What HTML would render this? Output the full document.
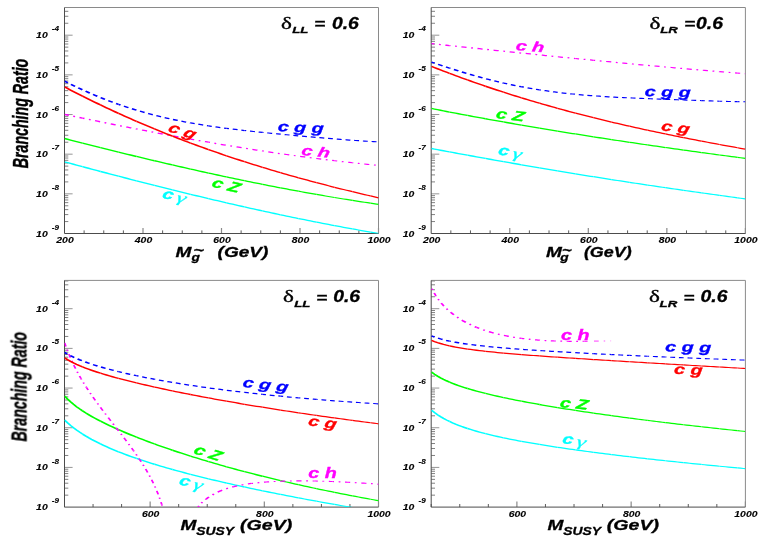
<!DOCTYPE html>
<html><head><meta charset="utf-8"><title>Branching Ratio plots</title>
<style>
html,body{margin:0;padding:0;background:#fff;}
body{width:763px;height:545px;overflow:hidden;font-family:"Liberation Sans",sans-serif;}
svg{display:block;}
</style></head><body>
<svg width="763" height="545" viewBox="0 0 763 545">
<rect width="763" height="545" fill="#fff"/>
<g style="opacity:0.999">
<clipPath id="cp1"><rect x="64.5" y="7.5" width="314" height="226"/></clipPath>
<line x1="64.5" y1="221.56" x2="68.3" y2="221.56" stroke="#4a4a4a" stroke-width="0.7"/>
<line x1="64.5" y1="214.58" x2="68.3" y2="214.58" stroke="#4a4a4a" stroke-width="0.7"/>
<line x1="64.5" y1="209.62" x2="68.3" y2="209.62" stroke="#4a4a4a" stroke-width="0.7"/>
<line x1="64.5" y1="205.78" x2="68.3" y2="205.78" stroke="#4a4a4a" stroke-width="0.7"/>
<line x1="64.5" y1="202.64" x2="68.3" y2="202.64" stroke="#4a4a4a" stroke-width="0.7"/>
<line x1="64.5" y1="199.98" x2="68.3" y2="199.98" stroke="#4a4a4a" stroke-width="0.7"/>
<line x1="64.5" y1="197.68" x2="68.3" y2="197.68" stroke="#4a4a4a" stroke-width="0.7"/>
<line x1="64.5" y1="195.65" x2="68.3" y2="195.65" stroke="#4a4a4a" stroke-width="0.7"/>
<text transform="translate(36.1,236.5) scale(1.25,1)" font-family="'Liberation Sans', sans-serif" font-size="8.35" font-weight="bold" font-style="italic" fill="#000" stroke="#000" stroke-width="0.12" text-anchor="start">10</text>
<text transform="translate(51.8,229.6) scale(1.27,1)" font-family="'Liberation Sans', sans-serif" font-size="6.42" font-weight="bold" font-style="italic" fill="#000" stroke="#000" stroke-width="0.12" text-anchor="start">-9</text>
<line x1="64.5" y1="193.84" x2="72.6" y2="193.84" stroke="#8a8a8a" stroke-width="0.9"/>
<line x1="64.5" y1="181.9" x2="68.3" y2="181.9" stroke="#4a4a4a" stroke-width="0.7"/>
<line x1="64.5" y1="174.92" x2="68.3" y2="174.92" stroke="#4a4a4a" stroke-width="0.7"/>
<line x1="64.5" y1="169.96" x2="68.3" y2="169.96" stroke="#4a4a4a" stroke-width="0.7"/>
<line x1="64.5" y1="166.12" x2="68.3" y2="166.12" stroke="#4a4a4a" stroke-width="0.7"/>
<line x1="64.5" y1="162.98" x2="68.3" y2="162.98" stroke="#4a4a4a" stroke-width="0.7"/>
<line x1="64.5" y1="160.32" x2="68.3" y2="160.32" stroke="#4a4a4a" stroke-width="0.7"/>
<line x1="64.5" y1="158.02" x2="68.3" y2="158.02" stroke="#4a4a4a" stroke-width="0.7"/>
<line x1="64.5" y1="155.99" x2="68.3" y2="155.99" stroke="#4a4a4a" stroke-width="0.7"/>
<text transform="translate(36.1,196.84) scale(1.25,1)" font-family="'Liberation Sans', sans-serif" font-size="8.35" font-weight="bold" font-style="italic" fill="#000" stroke="#000" stroke-width="0.12" text-anchor="start">10</text>
<text transform="translate(51.8,189.94) scale(1.27,1)" font-family="'Liberation Sans', sans-serif" font-size="6.42" font-weight="bold" font-style="italic" fill="#000" stroke="#000" stroke-width="0.12" text-anchor="start">-8</text>
<line x1="64.5" y1="154.18" x2="72.6" y2="154.18" stroke="#8a8a8a" stroke-width="0.9"/>
<line x1="64.5" y1="142.24" x2="68.3" y2="142.24" stroke="#4a4a4a" stroke-width="0.7"/>
<line x1="64.5" y1="135.26" x2="68.3" y2="135.26" stroke="#4a4a4a" stroke-width="0.7"/>
<line x1="64.5" y1="130.3" x2="68.3" y2="130.3" stroke="#4a4a4a" stroke-width="0.7"/>
<line x1="64.5" y1="126.46" x2="68.3" y2="126.46" stroke="#4a4a4a" stroke-width="0.7"/>
<line x1="64.5" y1="123.32" x2="68.3" y2="123.32" stroke="#4a4a4a" stroke-width="0.7"/>
<line x1="64.5" y1="120.66" x2="68.3" y2="120.66" stroke="#4a4a4a" stroke-width="0.7"/>
<line x1="64.5" y1="118.36" x2="68.3" y2="118.36" stroke="#4a4a4a" stroke-width="0.7"/>
<line x1="64.5" y1="116.33" x2="68.3" y2="116.33" stroke="#4a4a4a" stroke-width="0.7"/>
<text transform="translate(36.1,157.18) scale(1.25,1)" font-family="'Liberation Sans', sans-serif" font-size="8.35" font-weight="bold" font-style="italic" fill="#000" stroke="#000" stroke-width="0.12" text-anchor="start">10</text>
<text transform="translate(51.8,150.28) scale(1.27,1)" font-family="'Liberation Sans', sans-serif" font-size="6.42" font-weight="bold" font-style="italic" fill="#000" stroke="#000" stroke-width="0.12" text-anchor="start">-7</text>
<line x1="64.5" y1="114.52" x2="72.6" y2="114.52" stroke="#8a8a8a" stroke-width="0.9"/>
<line x1="64.5" y1="102.58" x2="68.3" y2="102.58" stroke="#4a4a4a" stroke-width="0.7"/>
<line x1="64.5" y1="95.6" x2="68.3" y2="95.6" stroke="#4a4a4a" stroke-width="0.7"/>
<line x1="64.5" y1="90.64" x2="68.3" y2="90.64" stroke="#4a4a4a" stroke-width="0.7"/>
<line x1="64.5" y1="86.8" x2="68.3" y2="86.8" stroke="#4a4a4a" stroke-width="0.7"/>
<line x1="64.5" y1="83.66" x2="68.3" y2="83.66" stroke="#4a4a4a" stroke-width="0.7"/>
<line x1="64.5" y1="81" x2="68.3" y2="81" stroke="#4a4a4a" stroke-width="0.7"/>
<line x1="64.5" y1="78.7" x2="68.3" y2="78.7" stroke="#4a4a4a" stroke-width="0.7"/>
<line x1="64.5" y1="76.67" x2="68.3" y2="76.67" stroke="#4a4a4a" stroke-width="0.7"/>
<text transform="translate(36.1,117.52) scale(1.25,1)" font-family="'Liberation Sans', sans-serif" font-size="8.35" font-weight="bold" font-style="italic" fill="#000" stroke="#000" stroke-width="0.12" text-anchor="start">10</text>
<text transform="translate(51.8,110.62) scale(1.27,1)" font-family="'Liberation Sans', sans-serif" font-size="6.42" font-weight="bold" font-style="italic" fill="#000" stroke="#000" stroke-width="0.12" text-anchor="start">-6</text>
<line x1="64.5" y1="74.86" x2="72.6" y2="74.86" stroke="#8a8a8a" stroke-width="0.9"/>
<line x1="64.5" y1="62.92" x2="68.3" y2="62.92" stroke="#4a4a4a" stroke-width="0.7"/>
<line x1="64.5" y1="55.94" x2="68.3" y2="55.94" stroke="#4a4a4a" stroke-width="0.7"/>
<line x1="64.5" y1="50.98" x2="68.3" y2="50.98" stroke="#4a4a4a" stroke-width="0.7"/>
<line x1="64.5" y1="47.14" x2="68.3" y2="47.14" stroke="#4a4a4a" stroke-width="0.7"/>
<line x1="64.5" y1="44" x2="68.3" y2="44" stroke="#4a4a4a" stroke-width="0.7"/>
<line x1="64.5" y1="41.34" x2="68.3" y2="41.34" stroke="#4a4a4a" stroke-width="0.7"/>
<line x1="64.5" y1="39.04" x2="68.3" y2="39.04" stroke="#4a4a4a" stroke-width="0.7"/>
<line x1="64.5" y1="37.01" x2="68.3" y2="37.01" stroke="#4a4a4a" stroke-width="0.7"/>
<text transform="translate(36.1,77.86) scale(1.25,1)" font-family="'Liberation Sans', sans-serif" font-size="8.35" font-weight="bold" font-style="italic" fill="#000" stroke="#000" stroke-width="0.12" text-anchor="start">10</text>
<text transform="translate(51.8,70.96) scale(1.27,1)" font-family="'Liberation Sans', sans-serif" font-size="6.42" font-weight="bold" font-style="italic" fill="#000" stroke="#000" stroke-width="0.12" text-anchor="start">-5</text>
<line x1="64.5" y1="35.2" x2="72.6" y2="35.2" stroke="#8a8a8a" stroke-width="0.9"/>
<line x1="64.5" y1="23.26" x2="68.3" y2="23.26" stroke="#4a4a4a" stroke-width="0.7"/>
<line x1="64.5" y1="16.28" x2="68.3" y2="16.28" stroke="#4a4a4a" stroke-width="0.7"/>
<line x1="64.5" y1="11.32" x2="68.3" y2="11.32" stroke="#4a4a4a" stroke-width="0.7"/>
<text transform="translate(36.1,38.2) scale(1.25,1)" font-family="'Liberation Sans', sans-serif" font-size="8.35" font-weight="bold" font-style="italic" fill="#000" stroke="#000" stroke-width="0.12" text-anchor="start">10</text>
<text transform="translate(51.8,31.3) scale(1.27,1)" font-family="'Liberation Sans', sans-serif" font-size="6.42" font-weight="bold" font-style="italic" fill="#000" stroke="#000" stroke-width="0.12" text-anchor="start">-4</text>
<line x1="84.12" y1="233.5" x2="84.12" y2="230.4" stroke="#4a4a4a" stroke-width="0.9"/>
<line x1="103.75" y1="233.5" x2="103.75" y2="230.4" stroke="#4a4a4a" stroke-width="0.9"/>
<line x1="123.38" y1="233.5" x2="123.38" y2="230.4" stroke="#4a4a4a" stroke-width="0.9"/>
<line x1="143" y1="233.5" x2="143" y2="228" stroke="#8a8a8a" stroke-width="1.2"/>
<line x1="162.62" y1="233.5" x2="162.62" y2="230.4" stroke="#4a4a4a" stroke-width="0.9"/>
<line x1="182.25" y1="233.5" x2="182.25" y2="230.4" stroke="#4a4a4a" stroke-width="0.9"/>
<line x1="201.88" y1="233.5" x2="201.88" y2="230.4" stroke="#4a4a4a" stroke-width="0.9"/>
<line x1="221.5" y1="233.5" x2="221.5" y2="228" stroke="#8a8a8a" stroke-width="1.2"/>
<line x1="241.12" y1="233.5" x2="241.12" y2="230.4" stroke="#4a4a4a" stroke-width="0.9"/>
<line x1="260.75" y1="233.5" x2="260.75" y2="230.4" stroke="#4a4a4a" stroke-width="0.9"/>
<line x1="280.38" y1="233.5" x2="280.38" y2="230.4" stroke="#4a4a4a" stroke-width="0.9"/>
<line x1="300" y1="233.5" x2="300" y2="228" stroke="#8a8a8a" stroke-width="1.2"/>
<line x1="319.62" y1="233.5" x2="319.62" y2="230.4" stroke="#4a4a4a" stroke-width="0.9"/>
<line x1="339.25" y1="233.5" x2="339.25" y2="230.4" stroke="#4a4a4a" stroke-width="0.9"/>
<line x1="358.88" y1="233.5" x2="358.88" y2="230.4" stroke="#4a4a4a" stroke-width="0.9"/>
<line x1="378.5" y1="233.5" x2="378.5" y2="228" stroke="#8a8a8a" stroke-width="1.2"/>
<text transform="translate(65,242.9) scale(1.25,1)" font-family="'Liberation Sans', sans-serif" font-size="8.35" font-weight="bold" font-style="italic" fill="#000" stroke="#000" stroke-width="0.12" text-anchor="middle">200</text>
<text transform="translate(143.5,242.9) scale(1.25,1)" font-family="'Liberation Sans', sans-serif" font-size="8.35" font-weight="bold" font-style="italic" fill="#000" stroke="#000" stroke-width="0.12" text-anchor="middle">400</text>
<text transform="translate(222,242.9) scale(1.25,1)" font-family="'Liberation Sans', sans-serif" font-size="8.35" font-weight="bold" font-style="italic" fill="#000" stroke="#000" stroke-width="0.12" text-anchor="middle">600</text>
<text transform="translate(300.5,242.9) scale(1.25,1)" font-family="'Liberation Sans', sans-serif" font-size="8.35" font-weight="bold" font-style="italic" fill="#000" stroke="#000" stroke-width="0.12" text-anchor="middle">800</text>
<text transform="translate(379,242.9) scale(1.25,1)" font-family="'Liberation Sans', sans-serif" font-size="8.35" font-weight="bold" font-style="italic" fill="#000" stroke="#000" stroke-width="0.12" text-anchor="middle">1000</text>
<path d="M64.5 7.5 H378.5 V233.5" fill="none" stroke="#8a8a8a" stroke-width="1"/>
<path d="M64.5 7.5 V233.5 H378.5" fill="none" stroke="#4c4c4c" stroke-width="1"/>
<text transform="translate(27.6,113.5) rotate(-90) scale(1,1.52)" font-family="'Liberation Sans', sans-serif" font-size="14.2" font-weight="bold" font-style="italic" fill="#000" stroke="#000" stroke-width="0.3" text-anchor="middle">Branching Ratio</text>
<text transform="translate(280.9,28.5) scale(1.45,1)" font-family="'Liberation Serif', serif" font-size="15.9" fill="#000" stroke="#000" stroke-width="0.35">&#948;</text>
<text transform="translate(292.2,32.9) scale(1.55,1)" font-family="'Liberation Sans', sans-serif" font-size="8.56" font-weight="bold" font-style="italic" fill="#000" stroke="#000" stroke-width="0.3" text-anchor="start">LL</text>
<text transform="translate(314.2,29.2) scale(1.25,1)" font-family="'Liberation Sans', sans-serif" font-size="14.98" font-weight="bold" font-style="italic" fill="#000" stroke="#000" stroke-width="0.3" text-anchor="start">=</text>
<text transform="translate(331.9,28.5) scale(1.24,1)" font-family="'Liberation Sans', sans-serif" font-size="15.62" font-weight="bold" font-style="italic" fill="#000" stroke="#000" stroke-width="0.3" text-anchor="start">0.6</text>
<text transform="translate(175.5,257) scale(1.31,1)" font-family="'Liberation Sans', sans-serif" font-size="14.55" font-weight="bold" font-style="italic" fill="#000" stroke="#000" stroke-width="0.3" text-anchor="start">M</text>
<text transform="translate(191.6,260.9) scale(1.31,1)" font-family="'Liberation Sans', sans-serif" font-size="10.49" font-weight="bold" font-style="italic" fill="#000" stroke="#000" stroke-width="0.3" text-anchor="start">g</text>
<text transform="translate(193.8,255) scale(1.4,1)" font-family="'Liberation Sans', sans-serif" font-size="12.84" font-weight="bold" font-style="normal" fill="#000" stroke="#000" stroke-width="0.3" text-anchor="start">~</text>
<text transform="translate(217.6,257) scale(1.31,1)" font-family="'Liberation Sans', sans-serif" font-size="14.55" font-weight="bold" font-style="italic" fill="#000" stroke="#000" stroke-width="0.3" text-anchor="start">(GeV)</text>
<g clip-path="url(#cp1)"><g transform="scale(1.4,1)" fill="none" stroke="#00ffff">
<path d="M46.071 161.81 L48.214 162.62 L50.357 163.43 L52.500 164.24 L54.643 165.05 L56.786 165.86 L58.929 166.66" stroke-width="1.44"/>
<path d="M58.929 166.66 L61.071 167.47 L63.214 168.27 L65.357 169.07 L67.500 169.87 L69.643 170.66 L71.786 171.46" stroke-width="1.43"/>
<path d="M71.786 171.46 L73.929 172.25 L76.071 173.04 L78.214 173.83 L80.357 174.62 L82.500 175.4 L84.643 176.18" stroke-width="1.42"/>
<path d="M84.643 176.18 L86.786 176.96 L88.929 177.74 L91.071 178.52 L93.214 179.3 L95.357 180.07 L97.500 180.84" stroke-width="1.41"/>
<path d="M97.500 180.84 L99.643 181.61 L101.786 182.37 L103.929 183.14 L106.071 183.9 L108.214 184.66 L110.357 185.42" stroke-width="1.4"/>
<path d="M110.357 185.42 L112.500 186.17 L114.643 186.92 L116.786 187.67 L118.929 188.42 L121.071 189.17 L123.214 189.91" stroke-width="1.38"/>
<path d="M123.214 189.91 L125.357 190.65 L127.500 191.39 L129.643 192.12 L131.786 192.85 L133.929 193.58 L136.071 194.31" stroke-width="1.37"/>
<path d="M136.071 194.31 L138.214 195.04 L140.357 195.76 L142.500 196.48 L144.643 197.19 L146.786 197.91 L148.929 198.62" stroke-width="1.36"/>
<path d="M148.929 198.62 L151.071 199.33 L153.214 200.03 L155.357 200.73 L157.500 201.43 L159.643 202.13 L161.786 202.82" stroke-width="1.35"/>
<path d="M161.786 202.82 L163.929 203.52 L166.071 204.2 L168.214 204.89 L170.357 205.57 L172.500 206.25 L174.643 206.92" stroke-width="1.33"/>
<path d="M174.643 206.92 L176.786 207.59 L178.929 208.26 L181.071 208.93 L183.214 209.59 L185.357 210.25 L187.500 210.91" stroke-width="1.32"/>
<path d="M187.500 210.91 L189.643 211.56 L191.786 212.21 L193.929 212.85 L196.071 213.5 L198.214 214.14 L200.357 214.77" stroke-width="1.31"/>
<path d="M200.357 214.77 L202.500 215.4 L204.643 216.03 L206.786 216.66 L208.929 217.28 L211.071 217.9 L213.214 218.51" stroke-width="1.29"/>
<path d="M213.214 218.51 L215.357 219.12 L217.500 219.73 L219.643 220.33 L221.786 220.93 L223.929 221.53 L226.071 222.12" stroke-width="1.28"/>
<path d="M226.071 222.12 L228.214 222.71 L230.357 223.29 L232.500 223.87 L234.643 224.45 L236.786 225.02 L238.929 225.59" stroke-width="1.27"/>
<path d="M238.929 225.59 L241.071 226.15 L243.214 226.72 L245.357 227.27 L247.500 227.82 L249.643 228.37 L251.786 228.92" stroke-width="1.25"/>
<path d="M251.786 228.92 L253.929 229.46 L256.071 229.99 L258.214 230.53 L260.357 231.05 L262.500 231.58 L264.643 232.1" stroke-width="1.24"/>
<path d="M264.643 232.1 L266.786 232.61 L268.929 233.12 L270.500 233.49" stroke-width="1.23"/>
</g></g>
<g clip-path="url(#cp1)"><g transform="scale(1.4,1)" fill="none" stroke="#00ff00">
<path d="M46.071 138.52 L48.214 139.29 L50.357 140.06 L52.500 140.82 L54.643 141.59 L56.786 142.35 L58.929 143.11" stroke-width="1.43"/>
<path d="M58.929 143.11 L61.071 143.87 L63.214 144.63 L65.357 145.38 L67.500 146.14 L69.643 146.89 L71.786 147.64" stroke-width="1.42"/>
<path d="M71.786 147.64 L73.929 148.38 L76.071 149.13 L78.214 149.87 L80.357 150.61 L82.500 151.35 L84.643 152.09" stroke-width="1.41"/>
<path d="M84.643 152.09 L86.786 152.83 L88.929 153.56 L91.071 154.29 L93.214 155.02 L95.357 155.74 L97.500 156.47" stroke-width="1.4"/>
<path d="M97.500 156.47 L99.643 157.19 L101.786 157.91 L103.929 158.62 L106.071 159.34 L108.214 160.05 L110.357 160.76" stroke-width="1.38"/>
<path d="M110.357 160.76 L112.500 161.46 L114.643 162.17 L116.786 162.87 L118.929 163.57 L121.071 164.26 L123.214 164.96" stroke-width="1.37"/>
<path d="M123.214 164.96 L125.357 165.65 L127.500 166.33 L129.643 167.02 L131.786 167.7 L133.929 168.38 L136.071 169.06" stroke-width="1.36"/>
<path d="M136.071 169.06 L138.214 169.73 L140.357 170.4 L142.500 171.07 L144.643 171.73 L146.786 172.39 L148.929 173.05" stroke-width="1.35"/>
<path d="M148.929 173.05 L151.071 173.7 L153.214 174.36 L155.357 175.01 L157.500 175.65 L159.643 176.29 L161.786 176.93" stroke-width="1.33"/>
<path d="M161.786 176.93 L163.929 177.57 L166.071 178.2 L168.214 178.83 L170.357 179.46 L172.500 180.08 L174.643 180.7" stroke-width="1.32"/>
<path d="M174.643 180.7 L176.786 181.31 L178.929 181.92 L181.071 182.53 L183.214 183.14 L185.357 183.74 L187.500 184.34" stroke-width="1.31"/>
<path d="M187.500 184.34 L189.643 184.93 L191.786 185.52 L193.929 186.11 L196.071 186.69 L198.214 187.27 L200.357 187.84" stroke-width="1.29"/>
<path d="M200.357 187.84 L202.500 188.41 L204.643 188.98 L206.786 189.54 L208.929 190.1 L211.071 190.66 L213.214 191.21" stroke-width="1.28"/>
<path d="M213.214 191.21 L215.357 191.76 L217.500 192.3 L219.643 192.84 L221.786 193.38 L223.929 193.91 L226.071 194.43" stroke-width="1.26"/>
<path d="M226.071 194.43 L228.214 194.96 L230.357 195.47 L232.500 195.99 L234.643 196.5 L236.786 197 L238.929 197.5" stroke-width="1.25"/>
<path d="M238.929 197.5 L241.071 198 L243.214 198.49 L245.357 198.98 L247.500 199.46 L249.643 199.94 L251.786 200.42" stroke-width="1.23"/>
<path d="M251.786 200.42 L253.929 200.89 L256.071 201.35 L258.214 201.81 L260.357 202.27 L262.500 202.72 L264.643 203.16" stroke-width="1.22"/>
<path d="M264.643 203.16 L266.786 203.61 L268.929 204.04 L270.500 204.36" stroke-width="1.21"/>
</g></g>
<g clip-path="url(#cp1)"><g transform="scale(1.4,1)" fill="none" stroke="#ff00ff" stroke-dasharray="3.7 3.3 1.3 3.3">
<path d="M46.071 114.36 L48.214 114.99 L50.357 115.62 L52.500 116.24 L54.643 116.87 L56.786 117.49 L58.929 118.11" stroke-width="1.4" stroke-dashoffset="0.45"/>
<path d="M58.929 118.11 L61.071 118.73 L63.214 119.35 L65.357 119.97 L67.500 120.58 L69.643 121.2 L71.786 121.81" stroke-width="1.39" stroke-dashoffset="13.84"/>
<path d="M71.786 121.81 L73.929 122.42 L76.071 123.02 L78.214 123.63 L80.357 124.23 L82.500 124.83 L84.643 125.43" stroke-width="1.37" stroke-dashoffset="27.22"/>
<path d="M84.643 125.43 L86.786 126.03 L88.929 126.62 L91.071 127.21 L93.214 127.8 L95.357 128.39 L97.500 128.97" stroke-width="1.36" stroke-dashoffset="40.58"/>
<path d="M97.500 128.97 L99.643 129.56 L101.786 130.14 L103.929 130.71 L106.071 131.29 L108.214 131.86 L110.357 132.43" stroke-width="1.35" stroke-dashoffset="53.92"/>
<path d="M110.357 132.43 L112.500 133 L114.643 133.56 L116.786 134.13 L118.929 134.69 L121.071 135.24 L123.214 135.8" stroke-width="1.34" stroke-dashoffset="67.23"/>
<path d="M123.214 135.8 L125.357 136.35 L127.500 136.9 L129.643 137.44 L131.786 137.99 L133.929 138.53 L136.071 139.06" stroke-width="1.33" stroke-dashoffset="80.52"/>
<path d="M136.071 139.06 L138.214 139.6 L140.357 140.13 L142.500 140.66 L144.643 141.18 L146.786 141.7 L148.929 142.22" stroke-width="1.31" stroke-dashoffset="93.79"/>
<path d="M148.929 142.22 L151.071 142.74 L153.214 143.25 L155.357 143.76 L157.500 144.26 L159.643 144.77 L161.786 145.26" stroke-width="1.3" stroke-dashoffset="107.02"/>
<path d="M161.786 145.26 L163.929 145.76 L166.071 146.25 L168.214 146.74 L170.357 147.23 L172.500 147.71 L174.643 148.19" stroke-width="1.28" stroke-dashoffset="120.24"/>
<path d="M174.643 148.19 L176.786 148.66 L178.929 149.13 L181.071 149.6 L183.214 150.06 L185.357 150.52 L187.500 150.98" stroke-width="1.27" stroke-dashoffset="133.42"/>
<path d="M187.500 150.98 L189.643 151.43 L191.786 151.88 L193.929 152.33 L196.071 152.77 L198.214 153.21 L200.357 153.64" stroke-width="1.26" stroke-dashoffset="146.58"/>
<path d="M200.357 153.64 L202.500 154.07 L204.643 154.49 L206.786 154.91 L208.929 155.33 L211.071 155.74 L213.214 156.15" stroke-width="1.24" stroke-dashoffset="159.71"/>
<path d="M213.214 156.15 L215.357 156.56 L217.500 156.96 L219.643 157.35 L221.786 157.75 L223.929 158.13 L226.071 158.52" stroke-width="1.23" stroke-dashoffset="172.81"/>
<path d="M226.071 158.52 L228.214 158.89 L230.357 159.27 L232.500 159.64 L234.643 160 L236.786 160.36 L238.929 160.72" stroke-width="1.21" stroke-dashoffset="185.88"/>
<path d="M238.929 160.72 L241.071 161.07 L243.214 161.42 L245.357 161.76 L247.500 162.1 L249.643 162.43 L251.786 162.76" stroke-width="1.19" stroke-dashoffset="198.93"/>
<path d="M251.786 162.76 L253.929 163.09 L256.071 163.4 L258.214 163.72 L260.357 164.03 L262.500 164.33 L264.643 164.63" stroke-width="1.18" stroke-dashoffset="211.95"/>
<path d="M264.643 164.63 L266.786 164.92 L268.929 165.21 L270.500 165.42" stroke-width="1.16" stroke-dashoffset="224.94"/>
</g></g>
<g clip-path="url(#cp1)"><g transform="scale(1.4,1)" fill="none" stroke="#0000ff" stroke-dasharray="3.53 2.72">
<path d="M46.071 81.17 L48.214 82.68 L50.357 84.16 L52.500 85.61 L54.643 87.04 L56.786 88.45 L58.929 89.82" stroke-width="1.56" stroke-dashoffset="0.64"/>
<path d="M58.929 89.82 L61.071 91.18 L63.214 92.5 L65.357 93.8 L67.500 95.08 L69.643 96.32 L71.786 97.55" stroke-width="1.53" stroke-dashoffset="16.14"/>
<path d="M71.786 97.55 L73.929 98.74 L76.071 99.91 L78.214 101.05 L80.357 102.17 L82.500 103.26 L84.643 104.32" stroke-width="1.49" stroke-dashoffset="31.14"/>
<path d="M84.643 104.32 L86.786 105.36 L88.929 106.37 L91.071 107.36 L93.214 108.32 L95.357 109.26 L97.500 110.18" stroke-width="1.45" stroke-dashoffset="45.67"/>
<path d="M97.500 110.18 L99.643 111.07 L101.786 111.93 L103.929 112.77 L106.071 113.59 L108.214 114.39 L110.357 115.17" stroke-width="1.41" stroke-dashoffset="59.8"/>
<path d="M110.357 115.17 L112.500 115.92 L114.643 116.65 L116.786 117.36 L118.929 118.05 L121.071 118.72 L123.214 119.38" stroke-width="1.37" stroke-dashoffset="73.6"/>
<path d="M123.214 119.38 L125.357 120.01 L127.500 120.62 L129.643 121.22 L131.786 121.8 L133.929 122.36 L136.071 122.9" stroke-width="1.34" stroke-dashoffset="87.13"/>
<path d="M136.071 122.9 L138.214 123.43 L140.357 123.95 L142.500 124.44 L144.643 124.93 L146.786 125.4 L148.929 125.86" stroke-width="1.3" stroke-dashoffset="100.46"/>
<path d="M148.929 125.86 L151.071 126.3 L153.214 126.74 L155.357 127.16 L157.500 127.57 L159.643 127.97 L161.786 128.36" stroke-width="1.27" stroke-dashoffset="113.65"/>
<path d="M161.786 128.36 L163.929 128.74 L166.071 129.11 L168.214 129.47 L170.357 129.82 L172.500 130.17 L174.643 130.51" stroke-width="1.25" stroke-dashoffset="126.75"/>
<path d="M174.643 130.51 L176.786 130.84 L178.929 131.17 L181.071 131.49 L183.214 131.8 L185.357 132.11 L187.500 132.42" stroke-width="1.23" stroke-dashoffset="139.79"/>
<path d="M187.500 132.42 L189.643 132.72 L191.786 133.01 L193.929 133.3 L196.071 133.59 L198.214 133.88 L200.357 134.16" stroke-width="1.21" stroke-dashoffset="152.79"/>
<path d="M200.357 134.16 L202.500 134.44 L204.643 134.72 L206.786 135 L208.929 135.27 L211.071 135.54 L213.214 135.81" stroke-width="1.2" stroke-dashoffset="165.76"/>
<path d="M213.214 135.81 L215.357 136.08 L217.500 136.35 L219.643 136.61 L221.786 136.87 L223.929 137.14 L226.071 137.39" stroke-width="1.19" stroke-dashoffset="178.72"/>
<path d="M226.071 137.39 L228.214 137.65 L230.357 137.91 L232.500 138.16 L234.643 138.41 L236.786 138.66 L238.929 138.9" stroke-width="1.18" stroke-dashoffset="191.68"/>
<path d="M238.929 138.9 L241.071 139.14 L243.214 139.38 L245.357 139.61 L247.500 139.84 L249.643 140.06 L251.786 140.28" stroke-width="1.16" stroke-dashoffset="204.62"/>
<path d="M251.786 140.28 L253.929 140.49 L256.071 140.69 L258.214 140.89 L260.357 141.08 L262.500 141.26 L264.643 141.42" stroke-width="1.14" stroke-dashoffset="217.55"/>
<path d="M264.643 141.42 L266.786 141.58 L268.929 141.73 L270.500 141.83" stroke-width="1.12" stroke-dashoffset="230.46"/>
</g></g>
<g clip-path="url(#cp1)"><g transform="scale(1.4,1)" fill="none" stroke="#ff0000">
<path d="M46.071 86.9 L48.214 88.48 L50.357 90.04 L52.500 91.58 L54.643 93.12 L56.786 94.64 L58.929 96.15" stroke-width="1.55"/>
<path d="M58.929 96.15 L61.071 97.65 L63.214 99.13 L65.357 100.61 L67.500 102.07 L69.643 103.52 L71.786 104.96" stroke-width="1.56"/>
<path d="M71.786 104.96 L73.929 106.38 L76.071 107.8 L78.214 109.2 L80.357 110.6 L82.500 111.98 L84.643 113.35" stroke-width="1.54"/>
<path d="M84.643 113.35 L86.786 114.7 L88.929 116.05 L91.071 117.39 L93.214 118.71 L95.357 120.03 L97.500 121.33" stroke-width="1.52"/>
<path d="M97.500 121.33 L99.643 122.63 L101.786 123.91 L103.929 125.18 L106.071 126.44 L108.214 127.69 L110.357 128.93" stroke-width="1.5"/>
<path d="M110.357 128.93 L112.500 130.16 L114.643 131.38 L116.786 132.59 L118.929 133.79 L121.071 134.98 L123.214 136.16" stroke-width="1.48"/>
<path d="M123.214 136.16 L125.357 137.33 L127.500 138.49 L129.643 139.64 L131.786 140.78 L133.929 141.91 L136.071 143.04" stroke-width="1.46"/>
<path d="M136.071 143.04 L138.214 144.15 L140.357 145.25 L142.500 146.35 L144.643 147.43 L146.786 148.51 L148.929 149.57" stroke-width="1.44"/>
<path d="M148.929 149.57 L151.071 150.63 L153.214 151.68 L155.357 152.72 L157.500 153.75 L159.643 154.78 L161.786 155.79" stroke-width="1.42"/>
<path d="M161.786 155.79 L163.929 156.8 L166.071 157.79 L168.214 158.78 L170.357 159.76 L172.500 160.74 L174.643 161.7" stroke-width="1.4"/>
<path d="M174.643 161.7 L176.786 162.66 L178.929 163.61 L181.071 164.55 L183.214 165.48 L185.357 166.41 L187.500 167.33" stroke-width="1.38"/>
<path d="M187.500 167.33 L189.643 168.24 L191.786 169.14 L193.929 170.04 L196.071 170.92 L198.214 171.8 L200.357 172.68" stroke-width="1.37"/>
<path d="M200.357 172.68 L202.500 173.55 L204.643 174.41 L206.786 175.26 L208.929 176.1 L211.071 176.94 L213.214 177.78" stroke-width="1.35"/>
<path d="M213.214 177.78 L215.357 178.6 L217.500 179.42 L219.643 180.23 L221.786 181.04 L223.929 181.84 L226.071 182.63" stroke-width="1.33"/>
<path d="M226.071 182.63 L228.214 183.42 L230.357 184.2 L232.500 184.98 L234.643 185.75 L236.786 186.51 L238.929 187.27" stroke-width="1.31"/>
<path d="M238.929 187.27 L241.071 188.02 L243.214 188.77 L245.357 189.51 L247.500 190.25 L249.643 190.98 L251.786 191.7" stroke-width="1.3"/>
<path d="M251.786 191.7 L253.929 192.42 L256.071 193.13 L258.214 193.84 L260.357 194.55 L262.500 195.25 L264.643 195.94" stroke-width="1.28"/>
<path d="M264.643 195.94 L266.786 196.63 L268.929 197.31 L270.500 197.81" stroke-width="1.27"/>
</g></g>
<text transform="translate(167,131) scale(1.42,1) rotate(24)" font-family="'Liberation Sans', sans-serif" font-size="13.91" font-weight="bold" font-style="italic" fill="#ff0000" stroke="#ff0000" stroke-width="0.3" text-anchor="start">c g</text>
<text transform="translate(277.4,130.9) scale(1.42,1) rotate(4)" font-family="'Liberation Sans', sans-serif" font-size="13.91" font-weight="bold" font-style="italic" fill="#0000ff" stroke="#0000ff" stroke-width="0.3" text-anchor="start">c g g</text>
<text transform="translate(300.8,154.7) scale(1.42,1) rotate(9)" font-family="'Liberation Sans', sans-serif" font-size="13.91" font-weight="bold" font-style="italic" fill="#ff00ff" stroke="#ff00ff" stroke-width="0.3" text-anchor="start">c h</text>
<text transform="translate(210.8,186.6) scale(1.42,1) rotate(18)" font-family="'Liberation Sans', sans-serif" font-size="13.91" font-weight="bold" font-style="italic" fill="#00ff00" stroke="#00ff00" stroke-width="0.3" text-anchor="start">c Z</text>
<g transform="translate(161.6,198) scale(1.42,1) rotate(13)">
<text font-family="'Liberation Sans', sans-serif" font-size="13.91" font-weight="bold" font-style="italic" fill="#00ffff" stroke="#00ffff" stroke-width="0.3">c</text>
<text transform="translate(10.4,1.4) scale(1.18,1)" font-family="'Liberation Serif', serif" font-size="14.3" font-style="italic" fill="#00ffff" stroke="#00ffff" stroke-width="0.2">&#947;</text>
</g>
<clipPath id="cp2"><rect x="431.2" y="7.5" width="314.2" height="226"/></clipPath>
<line x1="431.2" y1="221.56" x2="435" y2="221.56" stroke="#4a4a4a" stroke-width="0.7"/>
<line x1="431.2" y1="214.58" x2="435" y2="214.58" stroke="#4a4a4a" stroke-width="0.7"/>
<line x1="431.2" y1="209.62" x2="435" y2="209.62" stroke="#4a4a4a" stroke-width="0.7"/>
<line x1="431.2" y1="205.78" x2="435" y2="205.78" stroke="#4a4a4a" stroke-width="0.7"/>
<line x1="431.2" y1="202.64" x2="435" y2="202.64" stroke="#4a4a4a" stroke-width="0.7"/>
<line x1="431.2" y1="199.98" x2="435" y2="199.98" stroke="#4a4a4a" stroke-width="0.7"/>
<line x1="431.2" y1="197.68" x2="435" y2="197.68" stroke="#4a4a4a" stroke-width="0.7"/>
<line x1="431.2" y1="195.65" x2="435" y2="195.65" stroke="#4a4a4a" stroke-width="0.7"/>
<text transform="translate(402.8,236.5) scale(1.25,1)" font-family="'Liberation Sans', sans-serif" font-size="8.35" font-weight="bold" font-style="italic" fill="#000" stroke="#000" stroke-width="0.12" text-anchor="start">10</text>
<text transform="translate(418.5,229.6) scale(1.27,1)" font-family="'Liberation Sans', sans-serif" font-size="6.42" font-weight="bold" font-style="italic" fill="#000" stroke="#000" stroke-width="0.12" text-anchor="start">-9</text>
<line x1="431.2" y1="193.84" x2="439.3" y2="193.84" stroke="#8a8a8a" stroke-width="0.9"/>
<line x1="431.2" y1="181.9" x2="435" y2="181.9" stroke="#4a4a4a" stroke-width="0.7"/>
<line x1="431.2" y1="174.92" x2="435" y2="174.92" stroke="#4a4a4a" stroke-width="0.7"/>
<line x1="431.2" y1="169.96" x2="435" y2="169.96" stroke="#4a4a4a" stroke-width="0.7"/>
<line x1="431.2" y1="166.12" x2="435" y2="166.12" stroke="#4a4a4a" stroke-width="0.7"/>
<line x1="431.2" y1="162.98" x2="435" y2="162.98" stroke="#4a4a4a" stroke-width="0.7"/>
<line x1="431.2" y1="160.32" x2="435" y2="160.32" stroke="#4a4a4a" stroke-width="0.7"/>
<line x1="431.2" y1="158.02" x2="435" y2="158.02" stroke="#4a4a4a" stroke-width="0.7"/>
<line x1="431.2" y1="155.99" x2="435" y2="155.99" stroke="#4a4a4a" stroke-width="0.7"/>
<text transform="translate(402.8,196.84) scale(1.25,1)" font-family="'Liberation Sans', sans-serif" font-size="8.35" font-weight="bold" font-style="italic" fill="#000" stroke="#000" stroke-width="0.12" text-anchor="start">10</text>
<text transform="translate(418.5,189.94) scale(1.27,1)" font-family="'Liberation Sans', sans-serif" font-size="6.42" font-weight="bold" font-style="italic" fill="#000" stroke="#000" stroke-width="0.12" text-anchor="start">-8</text>
<line x1="431.2" y1="154.18" x2="439.3" y2="154.18" stroke="#8a8a8a" stroke-width="0.9"/>
<line x1="431.2" y1="142.24" x2="435" y2="142.24" stroke="#4a4a4a" stroke-width="0.7"/>
<line x1="431.2" y1="135.26" x2="435" y2="135.26" stroke="#4a4a4a" stroke-width="0.7"/>
<line x1="431.2" y1="130.3" x2="435" y2="130.3" stroke="#4a4a4a" stroke-width="0.7"/>
<line x1="431.2" y1="126.46" x2="435" y2="126.46" stroke="#4a4a4a" stroke-width="0.7"/>
<line x1="431.2" y1="123.32" x2="435" y2="123.32" stroke="#4a4a4a" stroke-width="0.7"/>
<line x1="431.2" y1="120.66" x2="435" y2="120.66" stroke="#4a4a4a" stroke-width="0.7"/>
<line x1="431.2" y1="118.36" x2="435" y2="118.36" stroke="#4a4a4a" stroke-width="0.7"/>
<line x1="431.2" y1="116.33" x2="435" y2="116.33" stroke="#4a4a4a" stroke-width="0.7"/>
<text transform="translate(402.8,157.18) scale(1.25,1)" font-family="'Liberation Sans', sans-serif" font-size="8.35" font-weight="bold" font-style="italic" fill="#000" stroke="#000" stroke-width="0.12" text-anchor="start">10</text>
<text transform="translate(418.5,150.28) scale(1.27,1)" font-family="'Liberation Sans', sans-serif" font-size="6.42" font-weight="bold" font-style="italic" fill="#000" stroke="#000" stroke-width="0.12" text-anchor="start">-7</text>
<line x1="431.2" y1="114.52" x2="439.3" y2="114.52" stroke="#8a8a8a" stroke-width="0.9"/>
<line x1="431.2" y1="102.58" x2="435" y2="102.58" stroke="#4a4a4a" stroke-width="0.7"/>
<line x1="431.2" y1="95.6" x2="435" y2="95.6" stroke="#4a4a4a" stroke-width="0.7"/>
<line x1="431.2" y1="90.64" x2="435" y2="90.64" stroke="#4a4a4a" stroke-width="0.7"/>
<line x1="431.2" y1="86.8" x2="435" y2="86.8" stroke="#4a4a4a" stroke-width="0.7"/>
<line x1="431.2" y1="83.66" x2="435" y2="83.66" stroke="#4a4a4a" stroke-width="0.7"/>
<line x1="431.2" y1="81" x2="435" y2="81" stroke="#4a4a4a" stroke-width="0.7"/>
<line x1="431.2" y1="78.7" x2="435" y2="78.7" stroke="#4a4a4a" stroke-width="0.7"/>
<line x1="431.2" y1="76.67" x2="435" y2="76.67" stroke="#4a4a4a" stroke-width="0.7"/>
<text transform="translate(402.8,117.52) scale(1.25,1)" font-family="'Liberation Sans', sans-serif" font-size="8.35" font-weight="bold" font-style="italic" fill="#000" stroke="#000" stroke-width="0.12" text-anchor="start">10</text>
<text transform="translate(418.5,110.62) scale(1.27,1)" font-family="'Liberation Sans', sans-serif" font-size="6.42" font-weight="bold" font-style="italic" fill="#000" stroke="#000" stroke-width="0.12" text-anchor="start">-6</text>
<line x1="431.2" y1="74.86" x2="439.3" y2="74.86" stroke="#8a8a8a" stroke-width="0.9"/>
<line x1="431.2" y1="62.92" x2="435" y2="62.92" stroke="#4a4a4a" stroke-width="0.7"/>
<line x1="431.2" y1="55.94" x2="435" y2="55.94" stroke="#4a4a4a" stroke-width="0.7"/>
<line x1="431.2" y1="50.98" x2="435" y2="50.98" stroke="#4a4a4a" stroke-width="0.7"/>
<line x1="431.2" y1="47.14" x2="435" y2="47.14" stroke="#4a4a4a" stroke-width="0.7"/>
<line x1="431.2" y1="44" x2="435" y2="44" stroke="#4a4a4a" stroke-width="0.7"/>
<line x1="431.2" y1="41.34" x2="435" y2="41.34" stroke="#4a4a4a" stroke-width="0.7"/>
<line x1="431.2" y1="39.04" x2="435" y2="39.04" stroke="#4a4a4a" stroke-width="0.7"/>
<line x1="431.2" y1="37.01" x2="435" y2="37.01" stroke="#4a4a4a" stroke-width="0.7"/>
<text transform="translate(402.8,77.86) scale(1.25,1)" font-family="'Liberation Sans', sans-serif" font-size="8.35" font-weight="bold" font-style="italic" fill="#000" stroke="#000" stroke-width="0.12" text-anchor="start">10</text>
<text transform="translate(418.5,70.96) scale(1.27,1)" font-family="'Liberation Sans', sans-serif" font-size="6.42" font-weight="bold" font-style="italic" fill="#000" stroke="#000" stroke-width="0.12" text-anchor="start">-5</text>
<line x1="431.2" y1="35.2" x2="439.3" y2="35.2" stroke="#8a8a8a" stroke-width="0.9"/>
<line x1="431.2" y1="23.26" x2="435" y2="23.26" stroke="#4a4a4a" stroke-width="0.7"/>
<line x1="431.2" y1="16.28" x2="435" y2="16.28" stroke="#4a4a4a" stroke-width="0.7"/>
<line x1="431.2" y1="11.32" x2="435" y2="11.32" stroke="#4a4a4a" stroke-width="0.7"/>
<text transform="translate(402.8,38.2) scale(1.25,1)" font-family="'Liberation Sans', sans-serif" font-size="8.35" font-weight="bold" font-style="italic" fill="#000" stroke="#000" stroke-width="0.12" text-anchor="start">10</text>
<text transform="translate(418.5,31.3) scale(1.27,1)" font-family="'Liberation Sans', sans-serif" font-size="6.42" font-weight="bold" font-style="italic" fill="#000" stroke="#000" stroke-width="0.12" text-anchor="start">-4</text>
<line x1="450.84" y1="233.5" x2="450.84" y2="230.4" stroke="#4a4a4a" stroke-width="0.9"/>
<line x1="470.47" y1="233.5" x2="470.47" y2="230.4" stroke="#4a4a4a" stroke-width="0.9"/>
<line x1="490.11" y1="233.5" x2="490.11" y2="230.4" stroke="#4a4a4a" stroke-width="0.9"/>
<line x1="509.75" y1="233.5" x2="509.75" y2="228" stroke="#8a8a8a" stroke-width="1.2"/>
<line x1="529.39" y1="233.5" x2="529.39" y2="230.4" stroke="#4a4a4a" stroke-width="0.9"/>
<line x1="549.02" y1="233.5" x2="549.02" y2="230.4" stroke="#4a4a4a" stroke-width="0.9"/>
<line x1="568.66" y1="233.5" x2="568.66" y2="230.4" stroke="#4a4a4a" stroke-width="0.9"/>
<line x1="588.3" y1="233.5" x2="588.3" y2="228" stroke="#8a8a8a" stroke-width="1.2"/>
<line x1="607.94" y1="233.5" x2="607.94" y2="230.4" stroke="#4a4a4a" stroke-width="0.9"/>
<line x1="627.58" y1="233.5" x2="627.58" y2="230.4" stroke="#4a4a4a" stroke-width="0.9"/>
<line x1="647.21" y1="233.5" x2="647.21" y2="230.4" stroke="#4a4a4a" stroke-width="0.9"/>
<line x1="666.85" y1="233.5" x2="666.85" y2="228" stroke="#8a8a8a" stroke-width="1.2"/>
<line x1="686.49" y1="233.5" x2="686.49" y2="230.4" stroke="#4a4a4a" stroke-width="0.9"/>
<line x1="706.12" y1="233.5" x2="706.12" y2="230.4" stroke="#4a4a4a" stroke-width="0.9"/>
<line x1="725.76" y1="233.5" x2="725.76" y2="230.4" stroke="#4a4a4a" stroke-width="0.9"/>
<line x1="745.4" y1="233.5" x2="745.4" y2="228" stroke="#8a8a8a" stroke-width="1.2"/>
<text transform="translate(431.7,242.9) scale(1.25,1)" font-family="'Liberation Sans', sans-serif" font-size="8.35" font-weight="bold" font-style="italic" fill="#000" stroke="#000" stroke-width="0.12" text-anchor="middle">200</text>
<text transform="translate(510.25,242.9) scale(1.25,1)" font-family="'Liberation Sans', sans-serif" font-size="8.35" font-weight="bold" font-style="italic" fill="#000" stroke="#000" stroke-width="0.12" text-anchor="middle">400</text>
<text transform="translate(588.8,242.9) scale(1.25,1)" font-family="'Liberation Sans', sans-serif" font-size="8.35" font-weight="bold" font-style="italic" fill="#000" stroke="#000" stroke-width="0.12" text-anchor="middle">600</text>
<text transform="translate(667.35,242.9) scale(1.25,1)" font-family="'Liberation Sans', sans-serif" font-size="8.35" font-weight="bold" font-style="italic" fill="#000" stroke="#000" stroke-width="0.12" text-anchor="middle">800</text>
<text transform="translate(745.9,242.9) scale(1.25,1)" font-family="'Liberation Sans', sans-serif" font-size="8.35" font-weight="bold" font-style="italic" fill="#000" stroke="#000" stroke-width="0.12" text-anchor="middle">1000</text>
<path d="M431.2 7.5 H745.4 V233.5" fill="none" stroke="#8a8a8a" stroke-width="1"/>
<path d="M431.2 7.5 V233.5 H745.4" fill="none" stroke="#4c4c4c" stroke-width="1"/>
<text transform="translate(649.6,28.5) scale(1.45,1)" font-family="'Liberation Serif', serif" font-size="15.9" fill="#000" stroke="#000" stroke-width="0.35">&#948;</text>
<text transform="translate(660.2,32.9) scale(1.55,1)" font-family="'Liberation Sans', sans-serif" font-size="8.56" font-weight="bold" font-style="italic" fill="#000" stroke="#000" stroke-width="0.3" text-anchor="start">LR</text>
<text transform="translate(684.2,29.2) scale(1.25,1)" font-family="'Liberation Sans', sans-serif" font-size="14.98" font-weight="bold" font-style="italic" fill="#000" stroke="#000" stroke-width="0.3" text-anchor="start">=</text>
<text transform="translate(696,28.5) scale(1.24,1)" font-family="'Liberation Sans', sans-serif" font-size="15.62" font-weight="bold" font-style="italic" fill="#000" stroke="#000" stroke-width="0.3" text-anchor="start">0.6</text>
<text transform="translate(546,257) scale(1.31,1)" font-family="'Liberation Sans', sans-serif" font-size="14.55" font-weight="bold" font-style="italic" fill="#000" stroke="#000" stroke-width="0.3" text-anchor="start">M</text>
<text transform="translate(560.3,260.9) scale(1.31,1)" font-family="'Liberation Sans', sans-serif" font-size="10.49" font-weight="bold" font-style="italic" fill="#000" stroke="#000" stroke-width="0.3" text-anchor="start">g</text>
<text transform="translate(562.3,255) scale(1.3,1)" font-family="'Liberation Sans', sans-serif" font-size="12.84" font-weight="bold" font-style="normal" fill="#000" stroke="#000" stroke-width="0.3" text-anchor="start">~</text>
<text transform="translate(583.9,257) scale(1.23,1)" font-family="'Liberation Sans', sans-serif" font-size="14.55" font-weight="bold" font-style="italic" fill="#000" stroke="#000" stroke-width="0.3" text-anchor="start">(GeV)</text>
<g clip-path="url(#cp2)"><g transform="scale(1.4,1)" fill="none" stroke="#00ffff">
<path d="M308.214 148.51 L310.357 149.09 L312.500 149.66 L314.643 150.22 L316.786 150.78 L318.929 151.33 L321.071 151.89" stroke-width="1.38"/>
<path d="M321.071 151.89 L323.214 152.44 L325.357 152.99 L327.500 153.54 L329.643 154.09 L331.786 154.64 L333.929 155.19" stroke-width="1.37"/>
<path d="M333.929 155.19 L336.071 155.73 L338.214 156.28 L340.357 156.82 L342.500 157.36 L344.643 157.9 L346.786 158.44" stroke-width="1.36"/>
<path d="M346.786 158.44 L348.929 158.98 L351.071 159.51 L353.214 160.05 L355.357 160.58 L357.500 161.11 L359.643 161.64" stroke-width="1.35"/>
<path d="M359.643 161.64 L361.786 162.17 L363.929 162.7 L366.071 163.23 L368.214 163.75 L370.357 164.27 L372.500 164.79" stroke-width="1.34"/>
<path d="M372.500 164.79 L374.643 165.31 L376.786 165.83 L378.929 166.34 L381.071 166.86 L383.214 167.37 L385.357 167.88" stroke-width="1.33"/>
<path d="M385.357 167.88 L387.500 168.38 L389.643 168.89 L391.786 169.39 L393.929 169.9 L396.071 170.4 L398.214 170.9" stroke-width="1.31"/>
<path d="M398.214 170.9 L400.357 171.39 L402.500 171.89 L404.643 172.38 L406.786 172.87 L408.929 173.36 L411.071 173.85" stroke-width="1.3"/>
<path d="M411.071 173.85 L413.214 174.34 L415.357 174.82 L417.500 175.3 L419.643 175.79 L421.786 176.26 L423.929 176.74" stroke-width="1.29"/>
<path d="M423.929 176.74 L426.071 177.22 L428.214 177.69 L430.357 178.16 L432.500 178.63 L434.643 179.1 L436.786 179.57" stroke-width="1.28"/>
<path d="M436.786 179.57 L438.929 180.04 L441.071 180.5 L443.214 180.96 L445.357 181.42 L447.500 181.88 L449.643 182.34" stroke-width="1.27"/>
<path d="M449.643 182.34 L451.786 182.79 L453.929 183.25 L456.071 183.7 L458.214 184.15 L460.357 184.6 L462.500 185.05" stroke-width="1.26"/>
<path d="M462.500 185.05 L464.643 185.49 L466.786 185.94 L468.929 186.38 L471.071 186.82 L473.214 187.26 L475.357 187.7" stroke-width="1.25"/>
<path d="M475.357 187.7 L477.500 188.14 L479.643 188.58 L481.786 189.01 L483.929 189.44 L486.071 189.88 L488.214 190.31" stroke-width="1.24"/>
<path d="M488.214 190.31 L490.357 190.73 L492.500 191.16 L494.643 191.59 L496.786 192.01 L498.929 192.43 L501.071 192.86" stroke-width="1.23"/>
<path d="M501.071 192.86 L503.214 193.28 L505.357 193.7 L507.500 194.11 L509.643 194.53 L511.786 194.94 L513.929 195.36" stroke-width="1.21"/>
<path d="M513.929 195.36 L516.071 195.77 L518.214 196.18 L520.357 196.59 L522.500 197 L524.643 197.41 L526.786 197.81" stroke-width="1.2"/>
<path d="M526.786 197.81 L528.929 198.22 L531.071 198.62 L532.357 198.86" stroke-width="1.2"/>
</g></g>
<g clip-path="url(#cp2)"><g transform="scale(1.4,1)" fill="none" stroke="#00ff00">
<path d="M308.214 108.44 L310.357 109.07 L312.500 109.69 L314.643 110.29 L316.786 110.89 L318.929 111.48 L321.071 112.06" stroke-width="1.39"/>
<path d="M321.071 112.06 L323.214 112.63 L325.357 113.21 L327.500 113.77 L329.643 114.34 L331.786 114.9 L333.929 115.46" stroke-width="1.37"/>
<path d="M333.929 115.46 L336.071 116.01 L338.214 116.56 L340.357 117.11 L342.500 117.66 L344.643 118.21 L346.786 118.75" stroke-width="1.36"/>
<path d="M346.786 118.75 L348.929 119.29 L351.071 119.83 L353.214 120.36 L355.357 120.89 L357.500 121.42 L359.643 121.95" stroke-width="1.35"/>
<path d="M359.643 121.95 L361.786 122.48 L363.929 123 L366.071 123.52 L368.214 124.04 L370.357 124.56 L372.500 125.08" stroke-width="1.34"/>
<path d="M372.500 125.08 L374.643 125.59 L376.786 126.1 L378.929 126.61 L381.071 127.12 L383.214 127.62 L385.357 128.12" stroke-width="1.32"/>
<path d="M385.357 128.12 L387.500 128.62 L389.643 129.12 L391.786 129.62 L393.929 130.11 L396.071 130.6 L398.214 131.09" stroke-width="1.31"/>
<path d="M398.214 131.09 L400.357 131.58 L402.500 132.07 L404.643 132.55 L406.786 133.03 L408.929 133.51 L411.071 133.99" stroke-width="1.3"/>
<path d="M411.071 133.99 L413.214 134.47 L415.357 134.94 L417.500 135.42 L419.643 135.89 L421.786 136.36 L423.929 136.82" stroke-width="1.29"/>
<path d="M423.929 136.82 L426.071 137.29 L428.214 137.75 L430.357 138.21 L432.500 138.67 L434.643 139.13 L436.786 139.59" stroke-width="1.28"/>
<path d="M436.786 139.59 L438.929 140.04 L441.071 140.5 L443.214 140.95 L445.357 141.4 L447.500 141.84 L449.643 142.29" stroke-width="1.27"/>
<path d="M449.643 142.29 L451.786 142.74 L453.929 143.18 L456.071 143.62 L458.214 144.06 L460.357 144.5 L462.500 144.93" stroke-width="1.26"/>
<path d="M462.500 144.93 L464.643 145.37 L466.786 145.8 L468.929 146.23 L471.071 146.66 L473.214 147.09 L475.357 147.52" stroke-width="1.24"/>
<path d="M475.357 147.52 L477.500 147.95 L479.643 148.37 L481.786 148.79 L483.929 149.22 L486.071 149.64 L488.214 150.05" stroke-width="1.23"/>
<path d="M488.214 150.05 L490.357 150.47 L492.500 150.89 L494.643 151.3 L496.786 151.72 L498.929 152.13 L501.071 152.54" stroke-width="1.22"/>
<path d="M501.071 152.54 L503.214 152.95 L505.357 153.35 L507.500 153.76 L509.643 154.16 L511.786 154.57 L513.929 154.97" stroke-width="1.21"/>
<path d="M513.929 154.97 L516.071 155.37 L518.214 155.77 L520.357 156.17 L522.500 156.57 L524.643 156.96 L526.786 157.36" stroke-width="1.2"/>
<path d="M526.786 157.36 L528.929 157.75 L531.071 158.14 L532.357 158.38" stroke-width="1.19"/>
</g></g>
<g clip-path="url(#cp2)"><g transform="scale(1.4,1)" fill="none" stroke="#ff00ff" stroke-dasharray="3.7 3.3 1.3 3.3">
<path d="M308.214 43.64 L310.357 43.96 L312.500 44.28 L314.643 44.59 L316.786 44.91 L318.929 45.23 L321.071 45.55" stroke-width="1.31" stroke-dashoffset="1.6"/>
<path d="M321.071 45.55 L323.214 45.87 L325.357 46.18 L327.500 46.5 L329.643 46.82 L331.786 47.13 L333.929 47.45" stroke-width="1.31" stroke-dashoffset="14.6"/>
<path d="M333.929 47.45 L336.071 47.76 L338.214 48.08 L340.357 48.39 L342.500 48.71 L344.643 49.02 L346.786 49.34" stroke-width="1.3" stroke-dashoffset="27.59"/>
<path d="M346.786 49.34 L348.929 49.65 L351.071 49.96 L353.214 50.27 L355.357 50.59 L357.500 50.9 L359.643 51.21" stroke-width="1.29" stroke-dashoffset="40.59"/>
<path d="M359.643 51.21 L361.786 51.52 L363.929 51.83 L366.071 52.14 L368.214 52.45 L370.357 52.76 L372.500 53.06" stroke-width="1.28" stroke-dashoffset="53.58"/>
<path d="M372.500 53.06 L374.643 53.37 L376.786 53.68 L378.929 53.99 L381.071 54.29 L383.214 54.6 L385.357 54.9" stroke-width="1.27" stroke-dashoffset="66.57"/>
<path d="M385.357 54.9 L387.500 55.21 L389.643 55.51 L391.786 55.81 L393.929 56.11 L396.071 56.42 L398.214 56.72" stroke-width="1.26" stroke-dashoffset="79.56"/>
<path d="M398.214 56.72 L400.357 57.02 L402.500 57.32 L404.643 57.61 L406.786 57.91 L408.929 58.21 L411.071 58.51" stroke-width="1.25" stroke-dashoffset="92.55"/>
<path d="M411.071 58.51 L413.214 58.8 L415.357 59.1 L417.500 59.39 L419.643 59.68 L421.786 59.98 L423.929 60.27" stroke-width="1.24" stroke-dashoffset="105.53"/>
<path d="M423.929 60.27 L426.071 60.56 L428.214 60.85 L430.357 61.14 L432.500 61.43 L434.643 61.72 L436.786 62" stroke-width="1.23" stroke-dashoffset="118.5"/>
<path d="M436.786 62 L438.929 62.29 L441.071 62.57 L443.214 62.86 L445.357 63.14 L447.500 63.42 L449.643 63.7" stroke-width="1.22" stroke-dashoffset="131.48"/>
<path d="M449.643 63.7 L451.786 63.98 L453.929 64.26 L456.071 64.54 L458.214 64.82 L460.357 65.09 L462.500 65.37" stroke-width="1.21" stroke-dashoffset="144.45"/>
<path d="M462.500 65.37 L464.643 65.64 L466.786 65.91 L468.929 66.19 L471.071 66.46 L473.214 66.73 L475.357 67" stroke-width="1.2" stroke-dashoffset="157.41"/>
<path d="M475.357 67 L477.500 67.26 L479.643 67.53 L481.786 67.8 L483.929 68.06 L486.071 68.32 L488.214 68.58" stroke-width="1.19" stroke-dashoffset="170.37"/>
<path d="M488.214 68.58 L490.357 68.84 L492.500 69.1 L494.643 69.36 L496.786 69.62 L498.929 69.88 L501.071 70.13" stroke-width="1.18" stroke-dashoffset="183.33"/>
<path d="M501.071 70.13 L503.214 70.38 L505.357 70.64 L507.500 70.89 L509.643 71.14 L511.786 71.38 L513.929 71.63" stroke-width="1.17" stroke-dashoffset="196.28"/>
<path d="M513.929 71.63 L516.071 71.88 L518.214 72.12 L520.357 72.36 L522.500 72.6 L524.643 72.84 L526.786 73.08" stroke-width="1.16" stroke-dashoffset="209.22"/>
<path d="M526.786 73.08 L528.929 73.32 L531.071 73.56 L532.357 73.7" stroke-width="1.15" stroke-dashoffset="222.16"/>
</g></g>
<g clip-path="url(#cp2)"><g transform="scale(1.4,1)" fill="none" stroke="#0000ff" stroke-dasharray="3.5 2.7">
<path d="M308.214 62.17 L310.357 63.18 L312.500 64.18 L314.643 65.17 L316.786 66.15 L318.929 67.13 L321.071 68.09" stroke-width="1.48" stroke-dashoffset="1"/>
<path d="M321.071 68.09 L323.214 69.04 L325.357 69.99 L327.500 70.92 L329.643 71.84 L331.786 72.74 L333.929 73.63" stroke-width="1.46" stroke-dashoffset="15.15"/>
<path d="M333.929 73.63 L336.071 74.5 L338.214 75.36 L340.357 76.21 L342.500 77.03 L344.643 77.84 L346.786 78.64" stroke-width="1.43" stroke-dashoffset="29.15"/>
<path d="M346.786 78.64 L348.929 79.41 L351.071 80.17 L353.214 80.91 L355.357 81.64 L357.500 82.34 L359.643 83.03" stroke-width="1.4" stroke-dashoffset="42.95"/>
<path d="M359.643 83.03 L361.786 83.7 L363.929 84.35 L366.071 84.98 L368.214 85.59 L370.357 86.18 L372.500 86.76" stroke-width="1.36" stroke-dashoffset="56.54"/>
<path d="M372.500 86.76 L374.643 87.32 L376.786 87.86 L378.929 88.38 L381.071 88.89 L383.214 89.38 L385.357 89.85" stroke-width="1.33" stroke-dashoffset="69.93"/>
<path d="M385.357 89.85 L387.500 90.3 L389.643 90.74 L391.786 91.16 L393.929 91.57 L396.071 91.96 L398.214 92.34" stroke-width="1.29" stroke-dashoffset="83.15"/>
<path d="M398.214 92.34 L400.357 92.7 L402.500 93.04 L404.643 93.37 L406.786 93.69 L408.929 94 L411.071 94.29" stroke-width="1.26" stroke-dashoffset="96.25"/>
<path d="M411.071 94.29 L413.214 94.57 L415.357 94.84 L417.500 95.09 L419.643 95.34 L421.786 95.57 L423.929 95.8" stroke-width="1.23" stroke-dashoffset="109.26"/>
<path d="M423.929 95.8 L426.071 96.02 L428.214 96.22 L430.357 96.42 L432.500 96.61 L434.643 96.79 L436.786 96.97" stroke-width="1.2" stroke-dashoffset="122.2"/>
<path d="M436.786 96.97 L438.929 97.13 L441.071 97.29 L443.214 97.45 L445.357 97.6 L447.500 97.74 L449.643 97.88" stroke-width="1.18" stroke-dashoffset="135.11"/>
<path d="M449.643 97.88 L451.786 98.02 L453.929 98.15 L456.071 98.28 L458.214 98.41 L460.357 98.53 L462.500 98.65" stroke-width="1.16" stroke-dashoffset="148"/>
<path d="M462.500 98.65 L464.643 98.76 L466.786 98.88 L468.929 98.99 L471.071 99.11 L473.214 99.22 L475.357 99.33" stroke-width="1.15" stroke-dashoffset="160.88"/>
<path d="M475.357 99.33 L477.500 99.44 L479.643 99.55 L481.786 99.66 L483.929 99.76 L486.071 99.87 L488.214 99.98" stroke-width="1.14" stroke-dashoffset="173.76"/>
<path d="M488.214 99.98 L490.357 100.08 L492.500 100.19 L494.643 100.3 L496.786 100.4 L498.929 100.5 L501.071 100.61" stroke-width="1.13" stroke-dashoffset="186.63"/>
<path d="M501.071 100.61 L503.214 100.71 L505.357 100.81 L507.500 100.91 L509.643 101 L511.786 101.1 L513.929 101.19" stroke-width="1.12" stroke-dashoffset="199.5"/>
<path d="M513.929 101.19 L516.071 101.28 L518.214 101.36 L520.357 101.44 L522.500 101.51 L524.643 101.58 L526.786 101.64" stroke-width="1.1" stroke-dashoffset="212.37"/>
<path d="M526.786 101.64 L528.929 101.7 L531.071 101.74 L532.357 101.77" stroke-width="1.09" stroke-dashoffset="225.24"/>
</g></g>
<g clip-path="url(#cp2)"><g transform="scale(1.4,1)" fill="none" stroke="#ff0000">
<path d="M308.214 66.36 L310.357 67.55 L312.500 68.73 L314.643 69.9 L316.786 71.05 L318.929 72.2 L321.071 73.34" stroke-width="1.51"/>
<path d="M321.071 73.34 L323.214 74.46 L325.357 75.58 L327.500 76.69 L329.643 77.79 L331.786 78.87 L333.929 79.95" stroke-width="1.49"/>
<path d="M333.929 79.95 L336.071 81.02 L338.214 82.08 L340.357 83.13 L342.500 84.18 L344.643 85.21 L346.786 86.23" stroke-width="1.47"/>
<path d="M346.786 86.23 L348.929 87.25 L351.071 88.25 L353.214 89.25 L355.357 90.24 L357.500 91.21 L359.643 92.19" stroke-width="1.45"/>
<path d="M359.643 92.19 L361.786 93.15 L363.929 94.1 L366.071 95.05 L368.214 95.98 L370.357 96.91 L372.500 97.83" stroke-width="1.43"/>
<path d="M372.500 97.83 L374.643 98.75 L376.786 99.65 L378.929 100.55 L381.071 101.44 L383.214 102.32 L385.357 103.19" stroke-width="1.42"/>
<path d="M385.357 103.19 L387.500 104.06 L389.643 104.92 L391.786 105.77 L393.929 106.61 L396.071 107.45 L398.214 108.28" stroke-width="1.4"/>
<path d="M398.214 108.28 L400.357 109.1 L402.500 109.92 L404.643 110.73 L406.786 111.53 L408.929 112.32 L411.071 113.11" stroke-width="1.38"/>
<path d="M411.071 113.11 L413.214 113.89 L415.357 114.66 L417.500 115.43 L419.643 116.19 L421.786 116.95 L423.929 117.7" stroke-width="1.36"/>
<path d="M423.929 117.7 L426.071 118.44 L428.214 119.18 L430.357 119.91 L432.500 120.63 L434.643 121.35 L436.786 122.06" stroke-width="1.35"/>
<path d="M436.786 122.06 L438.929 122.77 L441.071 123.47 L443.214 124.17 L445.357 124.86 L447.500 125.54 L449.643 126.22" stroke-width="1.33"/>
<path d="M449.643 126.22 L451.786 126.9 L453.929 127.57 L456.071 128.23 L458.214 128.89 L460.357 129.54 L462.500 130.19" stroke-width="1.31"/>
<path d="M462.500 130.19 L464.643 130.83 L466.786 131.47 L468.929 132.11 L471.071 132.74 L473.214 133.36 L475.357 133.98" stroke-width="1.3"/>
<path d="M475.357 133.98 L477.500 134.6 L479.643 135.21 L481.786 135.82 L483.929 136.42 L486.071 137.02 L488.214 137.62" stroke-width="1.28"/>
<path d="M488.214 137.62 L490.357 138.21 L492.500 138.8 L494.643 139.38 L496.786 139.97 L498.929 140.54 L501.071 141.12" stroke-width="1.27"/>
<path d="M501.071 141.12 L503.214 141.69 L505.357 142.25 L507.500 142.82 L509.643 143.38 L511.786 143.93 L513.929 144.49" stroke-width="1.25"/>
<path d="M513.929 144.49 L516.071 145.04 L518.214 145.59 L520.357 146.13 L522.500 146.67 L524.643 147.21 L526.786 147.75" stroke-width="1.24"/>
<path d="M526.786 147.75 L528.929 148.28 L531.071 148.82 L532.357 149.13" stroke-width="1.23"/>
</g></g>
<text transform="translate(515.2,49.9) scale(1.42,1) rotate(7)" font-family="'Liberation Sans', sans-serif" font-size="13.91" font-weight="bold" font-style="italic" fill="#ff00ff" stroke="#ff00ff" stroke-width="0.3" text-anchor="start">c h</text>
<text transform="translate(644.5,96) scale(1.42,1) rotate(2)" font-family="'Liberation Sans', sans-serif" font-size="13.91" font-weight="bold" font-style="italic" fill="#0000ff" stroke="#0000ff" stroke-width="0.3" text-anchor="start">c g g</text>
<text transform="translate(660.5,130.3) scale(1.42,1) rotate(10)" font-family="'Liberation Sans', sans-serif" font-size="13.91" font-weight="bold" font-style="italic" fill="#ff0000" stroke="#ff0000" stroke-width="0.3" text-anchor="start">c g</text>
<text transform="translate(495.3,118) scale(1.42,1) rotate(10)" font-family="'Liberation Sans', sans-serif" font-size="13.91" font-weight="bold" font-style="italic" fill="#00ff00" stroke="#00ff00" stroke-width="0.3" text-anchor="start">c Z</text>
<g transform="translate(497.5,154.5) scale(1.42,1) rotate(10)">
<text font-family="'Liberation Sans', sans-serif" font-size="13.91" font-weight="bold" font-style="italic" fill="#00ffff" stroke="#00ffff" stroke-width="0.3">c</text>
<text transform="translate(10.4,1.4) scale(1.18,1)" font-family="'Liberation Serif', serif" font-size="14.3" font-style="italic" fill="#00ffff" stroke="#00ffff" stroke-width="0.2">&#947;</text>
</g>
<clipPath id="cp3"><rect x="64.5" y="280.4" width="314" height="226.7"/></clipPath>
<line x1="64.5" y1="495.16" x2="68.3" y2="495.16" stroke="#4a4a4a" stroke-width="0.7"/>
<line x1="64.5" y1="488.17" x2="68.3" y2="488.17" stroke="#4a4a4a" stroke-width="0.7"/>
<line x1="64.5" y1="483.21" x2="68.3" y2="483.21" stroke="#4a4a4a" stroke-width="0.7"/>
<line x1="64.5" y1="479.36" x2="68.3" y2="479.36" stroke="#4a4a4a" stroke-width="0.7"/>
<line x1="64.5" y1="476.22" x2="68.3" y2="476.22" stroke="#4a4a4a" stroke-width="0.7"/>
<line x1="64.5" y1="473.57" x2="68.3" y2="473.57" stroke="#4a4a4a" stroke-width="0.7"/>
<line x1="64.5" y1="471.27" x2="68.3" y2="471.27" stroke="#4a4a4a" stroke-width="0.7"/>
<line x1="64.5" y1="469.24" x2="68.3" y2="469.24" stroke="#4a4a4a" stroke-width="0.7"/>
<text transform="translate(36.1,510.1) scale(1.25,1)" font-family="'Liberation Sans', sans-serif" font-size="8.35" font-weight="bold" font-style="italic" fill="#000" stroke="#000" stroke-width="0.12" text-anchor="start">10</text>
<text transform="translate(51.8,503.2) scale(1.27,1)" font-family="'Liberation Sans', sans-serif" font-size="6.42" font-weight="bold" font-style="italic" fill="#000" stroke="#000" stroke-width="0.12" text-anchor="start">-9</text>
<line x1="64.5" y1="467.42" x2="72.6" y2="467.42" stroke="#8a8a8a" stroke-width="0.9"/>
<line x1="64.5" y1="455.48" x2="68.3" y2="455.48" stroke="#4a4a4a" stroke-width="0.7"/>
<line x1="64.5" y1="448.49" x2="68.3" y2="448.49" stroke="#4a4a4a" stroke-width="0.7"/>
<line x1="64.5" y1="443.53" x2="68.3" y2="443.53" stroke="#4a4a4a" stroke-width="0.7"/>
<line x1="64.5" y1="439.68" x2="68.3" y2="439.68" stroke="#4a4a4a" stroke-width="0.7"/>
<line x1="64.5" y1="436.54" x2="68.3" y2="436.54" stroke="#4a4a4a" stroke-width="0.7"/>
<line x1="64.5" y1="433.89" x2="68.3" y2="433.89" stroke="#4a4a4a" stroke-width="0.7"/>
<line x1="64.5" y1="431.59" x2="68.3" y2="431.59" stroke="#4a4a4a" stroke-width="0.7"/>
<line x1="64.5" y1="429.56" x2="68.3" y2="429.56" stroke="#4a4a4a" stroke-width="0.7"/>
<text transform="translate(36.1,470.42) scale(1.25,1)" font-family="'Liberation Sans', sans-serif" font-size="8.35" font-weight="bold" font-style="italic" fill="#000" stroke="#000" stroke-width="0.12" text-anchor="start">10</text>
<text transform="translate(51.8,463.52) scale(1.27,1)" font-family="'Liberation Sans', sans-serif" font-size="6.42" font-weight="bold" font-style="italic" fill="#000" stroke="#000" stroke-width="0.12" text-anchor="start">-8</text>
<line x1="64.5" y1="427.74" x2="72.6" y2="427.74" stroke="#8a8a8a" stroke-width="0.9"/>
<line x1="64.5" y1="415.8" x2="68.3" y2="415.8" stroke="#4a4a4a" stroke-width="0.7"/>
<line x1="64.5" y1="408.81" x2="68.3" y2="408.81" stroke="#4a4a4a" stroke-width="0.7"/>
<line x1="64.5" y1="403.85" x2="68.3" y2="403.85" stroke="#4a4a4a" stroke-width="0.7"/>
<line x1="64.5" y1="400" x2="68.3" y2="400" stroke="#4a4a4a" stroke-width="0.7"/>
<line x1="64.5" y1="396.86" x2="68.3" y2="396.86" stroke="#4a4a4a" stroke-width="0.7"/>
<line x1="64.5" y1="394.21" x2="68.3" y2="394.21" stroke="#4a4a4a" stroke-width="0.7"/>
<line x1="64.5" y1="391.91" x2="68.3" y2="391.91" stroke="#4a4a4a" stroke-width="0.7"/>
<line x1="64.5" y1="389.88" x2="68.3" y2="389.88" stroke="#4a4a4a" stroke-width="0.7"/>
<text transform="translate(36.1,430.74) scale(1.25,1)" font-family="'Liberation Sans', sans-serif" font-size="8.35" font-weight="bold" font-style="italic" fill="#000" stroke="#000" stroke-width="0.12" text-anchor="start">10</text>
<text transform="translate(51.8,423.84) scale(1.27,1)" font-family="'Liberation Sans', sans-serif" font-size="6.42" font-weight="bold" font-style="italic" fill="#000" stroke="#000" stroke-width="0.12" text-anchor="start">-7</text>
<line x1="64.5" y1="388.06" x2="72.6" y2="388.06" stroke="#8a8a8a" stroke-width="0.9"/>
<line x1="64.5" y1="376.12" x2="68.3" y2="376.12" stroke="#4a4a4a" stroke-width="0.7"/>
<line x1="64.5" y1="369.13" x2="68.3" y2="369.13" stroke="#4a4a4a" stroke-width="0.7"/>
<line x1="64.5" y1="364.17" x2="68.3" y2="364.17" stroke="#4a4a4a" stroke-width="0.7"/>
<line x1="64.5" y1="360.32" x2="68.3" y2="360.32" stroke="#4a4a4a" stroke-width="0.7"/>
<line x1="64.5" y1="357.18" x2="68.3" y2="357.18" stroke="#4a4a4a" stroke-width="0.7"/>
<line x1="64.5" y1="354.53" x2="68.3" y2="354.53" stroke="#4a4a4a" stroke-width="0.7"/>
<line x1="64.5" y1="352.23" x2="68.3" y2="352.23" stroke="#4a4a4a" stroke-width="0.7"/>
<line x1="64.5" y1="350.2" x2="68.3" y2="350.2" stroke="#4a4a4a" stroke-width="0.7"/>
<text transform="translate(36.1,391.06) scale(1.25,1)" font-family="'Liberation Sans', sans-serif" font-size="8.35" font-weight="bold" font-style="italic" fill="#000" stroke="#000" stroke-width="0.12" text-anchor="start">10</text>
<text transform="translate(51.8,384.16) scale(1.27,1)" font-family="'Liberation Sans', sans-serif" font-size="6.42" font-weight="bold" font-style="italic" fill="#000" stroke="#000" stroke-width="0.12" text-anchor="start">-6</text>
<line x1="64.5" y1="348.38" x2="72.6" y2="348.38" stroke="#8a8a8a" stroke-width="0.9"/>
<line x1="64.5" y1="336.44" x2="68.3" y2="336.44" stroke="#4a4a4a" stroke-width="0.7"/>
<line x1="64.5" y1="329.45" x2="68.3" y2="329.45" stroke="#4a4a4a" stroke-width="0.7"/>
<line x1="64.5" y1="324.49" x2="68.3" y2="324.49" stroke="#4a4a4a" stroke-width="0.7"/>
<line x1="64.5" y1="320.64" x2="68.3" y2="320.64" stroke="#4a4a4a" stroke-width="0.7"/>
<line x1="64.5" y1="317.5" x2="68.3" y2="317.5" stroke="#4a4a4a" stroke-width="0.7"/>
<line x1="64.5" y1="314.85" x2="68.3" y2="314.85" stroke="#4a4a4a" stroke-width="0.7"/>
<line x1="64.5" y1="312.55" x2="68.3" y2="312.55" stroke="#4a4a4a" stroke-width="0.7"/>
<line x1="64.5" y1="310.52" x2="68.3" y2="310.52" stroke="#4a4a4a" stroke-width="0.7"/>
<text transform="translate(36.1,351.38) scale(1.25,1)" font-family="'Liberation Sans', sans-serif" font-size="8.35" font-weight="bold" font-style="italic" fill="#000" stroke="#000" stroke-width="0.12" text-anchor="start">10</text>
<text transform="translate(51.8,344.48) scale(1.27,1)" font-family="'Liberation Sans', sans-serif" font-size="6.42" font-weight="bold" font-style="italic" fill="#000" stroke="#000" stroke-width="0.12" text-anchor="start">-5</text>
<line x1="64.5" y1="308.7" x2="72.6" y2="308.7" stroke="#8a8a8a" stroke-width="0.9"/>
<line x1="64.5" y1="296.76" x2="68.3" y2="296.76" stroke="#4a4a4a" stroke-width="0.7"/>
<line x1="64.5" y1="289.77" x2="68.3" y2="289.77" stroke="#4a4a4a" stroke-width="0.7"/>
<line x1="64.5" y1="284.81" x2="68.3" y2="284.81" stroke="#4a4a4a" stroke-width="0.7"/>
<line x1="64.5" y1="280.96" x2="68.3" y2="280.96" stroke="#4a4a4a" stroke-width="0.7"/>
<text transform="translate(36.1,311.7) scale(1.25,1)" font-family="'Liberation Sans', sans-serif" font-size="8.35" font-weight="bold" font-style="italic" fill="#000" stroke="#000" stroke-width="0.12" text-anchor="start">10</text>
<text transform="translate(51.8,304.8) scale(1.27,1)" font-family="'Liberation Sans', sans-serif" font-size="6.42" font-weight="bold" font-style="italic" fill="#000" stroke="#000" stroke-width="0.12" text-anchor="start">-4</text>
<line x1="64.5" y1="507.1" x2="64.5" y2="504" stroke="#4a4a4a" stroke-width="0.9"/>
<line x1="93.05" y1="507.1" x2="93.05" y2="504" stroke="#4a4a4a" stroke-width="0.9"/>
<line x1="121.59" y1="507.1" x2="121.59" y2="504" stroke="#4a4a4a" stroke-width="0.9"/>
<line x1="150.14" y1="507.1" x2="150.14" y2="501.6" stroke="#8a8a8a" stroke-width="1.2"/>
<line x1="178.68" y1="507.1" x2="178.68" y2="504" stroke="#4a4a4a" stroke-width="0.9"/>
<line x1="207.23" y1="507.1" x2="207.23" y2="504" stroke="#4a4a4a" stroke-width="0.9"/>
<line x1="235.77" y1="507.1" x2="235.77" y2="504" stroke="#4a4a4a" stroke-width="0.9"/>
<line x1="264.32" y1="507.1" x2="264.32" y2="501.6" stroke="#8a8a8a" stroke-width="1.2"/>
<line x1="292.86" y1="507.1" x2="292.86" y2="504" stroke="#4a4a4a" stroke-width="0.9"/>
<line x1="321.41" y1="507.1" x2="321.41" y2="504" stroke="#4a4a4a" stroke-width="0.9"/>
<line x1="349.95" y1="507.1" x2="349.95" y2="504" stroke="#4a4a4a" stroke-width="0.9"/>
<line x1="378.5" y1="507.1" x2="378.5" y2="501.6" stroke="#8a8a8a" stroke-width="1.2"/>
<text transform="translate(150.64,516.5) scale(1.25,1)" font-family="'Liberation Sans', sans-serif" font-size="8.35" font-weight="bold" font-style="italic" fill="#000" stroke="#000" stroke-width="0.12" text-anchor="middle">600</text>
<text transform="translate(264.82,516.5) scale(1.25,1)" font-family="'Liberation Sans', sans-serif" font-size="8.35" font-weight="bold" font-style="italic" fill="#000" stroke="#000" stroke-width="0.12" text-anchor="middle">800</text>
<text transform="translate(379,516.5) scale(1.25,1)" font-family="'Liberation Sans', sans-serif" font-size="8.35" font-weight="bold" font-style="italic" fill="#000" stroke="#000" stroke-width="0.12" text-anchor="middle">1000</text>
<path d="M64.5 280.4 H378.5 V507.1" fill="none" stroke="#8a8a8a" stroke-width="1"/>
<path d="M64.5 280.4 V507.1 H378.5" fill="none" stroke="#4c4c4c" stroke-width="1"/>
<text transform="translate(26.4,386.7) rotate(-90) scale(1,1.52)" font-family="'Liberation Sans', sans-serif" font-size="14.2" font-weight="bold" font-style="italic" fill="#000" stroke="#000" stroke-width="0.3" text-anchor="middle">Branching Ratio</text>
<text transform="translate(282.9,302.3) scale(1.45,1)" font-family="'Liberation Serif', serif" font-size="15.9" fill="#000" stroke="#000" stroke-width="0.35">&#948;</text>
<text transform="translate(294.2,306.7) scale(1.55,1)" font-family="'Liberation Sans', sans-serif" font-size="8.56" font-weight="bold" font-style="italic" fill="#000" stroke="#000" stroke-width="0.3" text-anchor="start">LL</text>
<text transform="translate(316.2,303) scale(1.25,1)" font-family="'Liberation Sans', sans-serif" font-size="14.98" font-weight="bold" font-style="italic" fill="#000" stroke="#000" stroke-width="0.3" text-anchor="start">=</text>
<text transform="translate(333.2,302.3) scale(1.24,1)" font-family="'Liberation Sans', sans-serif" font-size="15.62" font-weight="bold" font-style="italic" fill="#000" stroke="#000" stroke-width="0.3" text-anchor="start">0.6</text>
<text transform="translate(180.6,530.3) scale(1.31,1)" font-family="'Liberation Sans', sans-serif" font-size="14.55" font-weight="bold" font-style="italic" fill="#000" stroke="#000" stroke-width="0.3" text-anchor="start">M</text>
<text transform="translate(196.3,535.1) scale(1.27,1)" font-family="'Liberation Sans', sans-serif" font-size="10.91" font-weight="bold" font-style="italic" fill="#000" stroke="#000" stroke-width="0.3" text-anchor="start">SUSY</text>
<text transform="translate(240,530.3) scale(1.35,1)" font-family="'Liberation Sans', sans-serif" font-size="14.55" font-weight="bold" font-style="italic" fill="#000" stroke="#000" stroke-width="0.3" text-anchor="start">(GeV)</text>
<g clip-path="url(#cp3)"><g transform="scale(1.4,1)" fill="none" stroke="#00ffff">
<path d="M46.071 419.99 L48.214 422.81 L50.357 425.39 L52.500 427.78 L54.643 430 L56.786 432.09 L58.929 434.05" stroke-width="1.46"/>
<path d="M58.929 434.05 L61.071 435.9 L63.214 437.66 L65.357 439.34 L67.500 440.94 L69.643 442.47 L71.786 443.95" stroke-width="1.54"/>
<path d="M71.786 443.95 L73.929 445.37 L76.071 446.73 L78.214 448.06 L80.357 449.34 L82.500 450.58 L84.643 451.79" stroke-width="1.52"/>
<path d="M84.643 451.79 L86.786 452.96 L88.929 454.11 L91.071 455.22 L93.214 456.31 L95.357 457.38 L97.500 458.42" stroke-width="1.48"/>
<path d="M97.500 458.42 L99.643 459.44 L101.786 460.44 L103.929 461.42 L106.071 462.38 L108.214 463.32 L110.357 464.25" stroke-width="1.44"/>
<path d="M110.357 464.25 L112.500 465.16 L114.643 466.05 L116.786 466.93 L118.929 467.8 L121.071 468.66 L123.214 469.5" stroke-width="1.41"/>
<path d="M123.214 469.5 L125.357 470.33 L127.500 471.15 L129.643 471.96 L131.786 472.76 L133.929 473.54 L136.071 474.32" stroke-width="1.39"/>
<path d="M136.071 474.32 L138.214 475.09 L140.357 475.85 L142.500 476.6 L144.643 477.34 L146.786 478.08 L148.929 478.81" stroke-width="1.37"/>
<path d="M148.929 478.81 L151.071 479.52 L153.214 480.24 L155.357 480.94 L157.500 481.64 L159.643 482.33 L161.786 483.01" stroke-width="1.35"/>
<path d="M161.786 483.01 L163.929 483.69 L166.071 484.36 L168.214 485.03 L170.357 485.69 L172.500 486.35 L174.643 486.99" stroke-width="1.33"/>
<path d="M174.643 486.99 L176.786 487.64 L178.929 488.28 L181.071 488.91 L183.214 489.54 L185.357 490.16 L187.500 490.78" stroke-width="1.31"/>
<path d="M187.500 490.78 L189.643 491.39 L191.786 492 L193.929 492.61 L196.071 493.21 L198.214 493.8 L200.357 494.4" stroke-width="1.3"/>
<path d="M200.357 494.4 L202.500 494.98 L204.643 495.57 L206.786 496.15 L208.929 496.72 L211.071 497.3 L213.214 497.87" stroke-width="1.28"/>
<path d="M213.214 497.87 L215.357 498.43 L217.500 498.99 L219.643 499.55 L221.786 500.11 L223.929 500.66 L226.071 501.21" stroke-width="1.27"/>
<path d="M226.071 501.21 L228.214 501.75 L230.357 502.29 L232.500 502.83 L234.643 503.37 L236.786 503.9 L238.929 504.43" stroke-width="1.26"/>
<path d="M238.929 504.43 L241.071 504.96 L243.214 505.48 L245.357 506 L247.500 506.52 L249.643 507.03 L251.786 507.55" stroke-width="1.24"/>
<path d="M251.786 507.55 L253.929 508.06 L256.071 508.57 L258.214 509.07 L260.357 509.57 L262.500 510.07 L264.643 510.57" stroke-width="1.23"/>
<path d="M264.643 510.57 L266.786 511.07 L268.929 511.56 L270.500 511.92" stroke-width="1.22"/>
</g></g>
<g clip-path="url(#cp3)"><g transform="scale(1.4,1)" fill="none" stroke="#00ff00">
<path d="M46.071 395.91 L48.214 399.01 L50.357 401.8 L52.500 404.33 L54.643 406.67 L56.786 408.84 L58.929 410.87" stroke-width="1.44"/>
<path d="M58.929 410.87 L61.071 412.79 L63.214 414.61 L65.357 416.35 L67.500 418.02 L69.643 419.63 L71.786 421.19" stroke-width="1.53"/>
<path d="M71.786 421.19 L73.929 422.69 L76.071 424.16 L78.214 425.58 L80.357 426.97 L82.500 428.33 L84.643 429.66" stroke-width="1.54"/>
<path d="M84.643 429.66 L86.786 430.97 L88.929 432.25 L91.071 433.5 L93.214 434.73 L95.357 435.95 L97.500 437.14" stroke-width="1.5"/>
<path d="M97.500 437.14 L99.643 438.32 L101.786 439.47 L103.929 440.61 L106.071 441.74 L108.214 442.85 L110.357 443.95" stroke-width="1.47"/>
<path d="M110.357 443.95 L112.500 445.03 L114.643 446.09 L116.786 447.15 L118.929 448.19 L121.071 449.22 L123.214 450.24" stroke-width="1.45"/>
<path d="M123.214 450.24 L125.357 451.24 L127.500 452.24 L129.643 453.22 L131.786 454.19 L133.929 455.15 L136.071 456.1" stroke-width="1.43"/>
<path d="M136.071 456.1 L138.214 457.04 L140.357 457.97 L142.500 458.89 L144.643 459.8 L146.786 460.71 L148.929 461.6" stroke-width="1.4"/>
<path d="M148.929 461.6 L151.071 462.48 L153.214 463.36 L155.357 464.22 L157.500 465.08 L159.643 465.93 L161.786 466.77" stroke-width="1.38"/>
<path d="M161.786 466.77 L163.929 467.6 L166.071 468.42 L168.214 469.24 L170.357 470.05 L172.500 470.85 L174.643 471.64" stroke-width="1.37"/>
<path d="M174.643 471.64 L176.786 472.43 L178.929 473.2 L181.071 473.97 L183.214 474.74 L185.357 475.49 L187.500 476.24" stroke-width="1.35"/>
<path d="M187.500 476.24 L189.643 476.99 L191.786 477.72 L193.929 478.45 L196.071 479.17 L198.214 479.89 L200.357 480.6" stroke-width="1.33"/>
<path d="M200.357 480.6 L202.500 481.3 L204.643 482 L206.786 482.69 L208.929 483.37 L211.071 484.05 L213.214 484.72" stroke-width="1.31"/>
<path d="M213.214 484.72 L215.357 485.39 L217.500 486.05 L219.643 486.7 L221.786 487.35 L223.929 488 L226.071 488.63" stroke-width="1.29"/>
<path d="M226.071 488.63 L228.214 489.27 L230.357 489.89 L232.500 490.51 L234.643 491.13 L236.786 491.74 L238.929 492.35" stroke-width="1.28"/>
<path d="M238.929 492.35 L241.071 492.95 L243.214 493.54 L245.357 494.13 L247.500 494.72 L249.643 495.3 L251.786 495.88" stroke-width="1.26"/>
<path d="M251.786 495.88 L253.929 496.45 L256.071 497.01 L258.214 497.57 L260.357 498.13 L262.500 498.68 L264.643 499.23" stroke-width="1.24"/>
<path d="M264.643 499.23 L266.786 499.77 L268.929 500.31 L270.500 500.7" stroke-width="1.23"/>
</g></g>
<g clip-path="url(#cp3)"><g transform="scale(1.4,1)" fill="none" stroke="#ff00ff" stroke-dasharray="3.7 3.3 1.3 3.3">
<path d="M46.077 342.5 L46.455 344 L46.839 345.5 L47.231 347 L47.631 348.5 L48.039 350 L48.457 351.5" stroke-width="1.25" stroke-dashoffset="-0.4"/>
<path d="M48.457 351.5 L48.884 353 L49.321 354.5 L49.768 356 L50.225 357.5 L50.694 359 L51.173 360.5" stroke-width="1.26" stroke-dashoffset="8.91"/>
<path d="M51.173 360.5 L51.663 362 L52.165 363.5 L52.679 365 L53.204 366.5 L53.741 368 L54.290 369.5" stroke-width="1.28" stroke-dashoffset="18.31"/>
<path d="M54.290 369.5 L54.850 371 L55.423 372.5 L56.007 374 L56.604 375.5 L57.212 377 L57.831 378.5" stroke-width="1.29" stroke-dashoffset="27.84"/>
<path d="M57.831 378.5 L58.463 380 L59.105 381.5 L59.759 383 L60.424 384.5 L61.100 386 L61.787 387.5" stroke-width="1.31" stroke-dashoffset="37.51"/>
<path d="M61.787 387.5 L62.484 389 L63.192 390.5 L63.909 392 L64.635 393.5 L65.371 395 L66.116 396.5" stroke-width="1.32" stroke-dashoffset="47.34"/>
<path d="M66.116 396.5 L66.870 398 L67.632 399.5 L68.402 401 L69.179 402.5 L69.963 404 L70.754 405.5" stroke-width="1.33" stroke-dashoffset="57.33"/>
<path d="M70.754 405.5 L71.551 407 L72.355 408.5 L73.163 410 L73.977 411.5 L74.795 413 L75.617 414.5" stroke-width="1.34" stroke-dashoffset="67.45"/>
<path d="M75.617 414.5 L76.442 416 L77.271 417.5 L78.102 419 L78.936 420.5 L79.771 422 L80.607 423.5" stroke-width="1.34" stroke-dashoffset="77.68"/>
<path d="M80.607 423.5 L81.443 425 L82.280 426.5 L83.117 428 L83.952 429.5 L84.787 431 L85.619 432.5" stroke-width="1.35" stroke-dashoffset="87.97"/>
<path d="M85.619 432.5 L86.449 434 L87.276 435.5 L88.100 437 L88.919 438.5 L89.735 440 L90.546 441.5" stroke-width="1.34" stroke-dashoffset="98.27"/>
<path d="M90.546 441.5 L91.351 443 L92.150 444.5 L92.944 446 L93.730 447.5 L94.510 449 L95.282 450.5" stroke-width="1.33" stroke-dashoffset="108.53"/>
<path d="M95.282 450.5 L96.046 452 L96.801 453.5 L97.548 455 L98.285 456.5 L99.013 458 L99.731 459.5" stroke-width="1.32" stroke-dashoffset="118.71"/>
<path d="M99.731 459.5 L100.438 461 L101.135 462.5 L101.821 464 L102.495 465.5 L103.158 467 L103.809 468.5" stroke-width="1.31" stroke-dashoffset="128.75"/>
<path d="M103.809 468.5 L104.448 470 L105.075 471.5 L105.689 473 L106.290 474.5 L106.879 476 L107.454 477.5" stroke-width="1.29" stroke-dashoffset="138.63"/>
<path d="M107.454 477.5 L108.016 479 L108.565 480.5 L109.100 482 L109.622 483.5 L110.130 485 L110.625 486.5" stroke-width="1.28" stroke-dashoffset="148.34"/>
<path d="M110.625 486.5 L111.106 488 L111.574 489.5 L112.028 491 L112.469 492.5 L112.897 494 L113.312 495.5" stroke-width="1.26" stroke-dashoffset="157.88"/>
<path d="M113.312 495.5 L113.714 497 L114.104 498.5 L114.481 500 L114.846 501.5 L115.200 503 L115.542 504.5" stroke-width="1.25" stroke-dashoffset="167.27"/>
<path d="M115.542 504.5 L115.873 506 L116.194 507.5 L116.504 509" stroke-width="1.24" stroke-dashoffset="176.55"/>
</g></g>
<g clip-path="url(#cp3)"><g transform="scale(1.4,1)" fill="none" stroke="#ff00ff" stroke-dasharray="3.7 3.3 1.3 3.3">
<path d="M140.929 509.5 L142.000 505.98 L143.071 504.17 L144.143 502.71 L145.214 501.37 L146.286 500.11 L147.357 498.92" stroke-width="1.36" stroke-dashoffset="0"/>
<path d="M147.357 498.92 L148.429 497.81 L149.500 496.77 L150.571 495.8 L151.643 494.89 L152.714 494.04 L153.786 493.25" stroke-width="1.51" stroke-dashoffset="12.56"/>
<path d="M153.786 493.25 L154.857 492.51 L155.929 491.81 L157.000 491.16 L158.071 490.55 L159.143 489.97 L160.214 489.43" stroke-width="1.47" stroke-dashoffset="21.15"/>
<path d="M160.214 489.43 L161.286 488.92 L162.357 488.44 L163.429 487.99 L164.500 487.56 L165.571 487.15 L166.643 486.77" stroke-width="1.38" stroke-dashoffset="28.64"/>
<path d="M166.643 486.77 L167.714 486.41 L168.786 486.07 L169.857 485.74 L170.929 485.44 L172.000 485.15 L173.071 484.87" stroke-width="1.32" stroke-dashoffset="35.6"/>
<path d="M173.071 484.87 L174.143 484.61 L175.214 484.36 L176.286 484.13 L177.357 483.91 L178.429 483.69 L179.500 483.49" stroke-width="1.27" stroke-dashoffset="42.3"/>
<path d="M179.500 483.49 L180.571 483.31 L181.643 483.13 L182.714 482.96 L183.786 482.8 L184.857 482.64 L185.929 482.5" stroke-width="1.23" stroke-dashoffset="48.88"/>
<path d="M185.929 482.5 L187.000 482.36 L188.071 482.24 L189.143 482.12 L190.214 482 L191.286 481.9 L192.357 481.8" stroke-width="1.2" stroke-dashoffset="55.38"/>
<path d="M192.357 481.8 L193.429 481.7 L194.500 481.61 L195.571 481.53 L196.643 481.46 L197.714 481.39 L198.786 481.32" stroke-width="1.17" stroke-dashoffset="61.85"/>
<path d="M198.786 481.32 L199.857 481.26 L200.929 481.21 L202.000 481.16 L203.071 481.11 L204.143 481.07 L205.214 481.03" stroke-width="1.15" stroke-dashoffset="68.3"/>
<path d="M205.214 481.03 L206.286 481 L207.357 480.97 L208.429 480.95 L209.500 480.93 L210.571 480.91 L211.643 480.9" stroke-width="1.13" stroke-dashoffset="74.73"/>
<path d="M211.643 480.9 L212.714 480.89 L213.786 480.88 L214.857 480.88 L215.929 480.88 L217.000 480.89 L218.071 480.9" stroke-width="1.11" stroke-dashoffset="81.16"/>
<path d="M218.071 480.9 L219.143 480.91 L220.214 480.92 L221.286 480.94 L222.357 480.96 L223.429 480.98 L224.500 481.01" stroke-width="1.12" stroke-dashoffset="87.59"/>
<path d="M224.500 481.01 L225.571 481.04 L226.643 481.07 L227.714 481.1 L228.786 481.14 L229.857 481.18 L230.929 481.22" stroke-width="1.12" stroke-dashoffset="94.02"/>
<path d="M230.929 481.22 L232.000 481.27 L233.071 481.31 L234.143 481.36 L235.214 481.41 L236.286 481.47 L237.357 481.52" stroke-width="1.13" stroke-dashoffset="100.45"/>
<path d="M237.357 481.52 L238.429 481.58 L239.500 481.64 L240.571 481.7 L241.643 481.77 L242.714 481.84 L243.786 481.9" stroke-width="1.13" stroke-dashoffset="106.89"/>
<path d="M243.786 481.9 L244.857 481.97 L245.929 482.05 L247.000 482.12 L248.071 482.2 L249.143 482.28 L250.214 482.36" stroke-width="1.13" stroke-dashoffset="113.33"/>
<path d="M250.214 482.36 L251.286 482.44 L252.357 482.52 L253.429 482.61 L254.500 482.7 L255.571 482.79 L256.643 482.88" stroke-width="1.14" stroke-dashoffset="119.77"/>
<path d="M256.643 482.88 L257.714 482.97 L258.786 483.06 L259.857 483.16 L260.929 483.26 L262.000 483.36 L263.071 483.46" stroke-width="1.14" stroke-dashoffset="126.22"/>
<path d="M263.071 483.46 L264.143 483.56 L265.214 483.66 L266.286 483.77 L267.357 483.87 L268.429 483.98 L269.500 484.09 L270.500 484.2" stroke-width="1.14" stroke-dashoffset="132.68"/>
</g></g>
<g clip-path="url(#cp3)"><g transform="scale(1.4,1)" fill="none" stroke="#0000ff" stroke-dasharray="3.5 2.7">
<path d="M46.071 352.43 L48.214 354.15 L50.357 355.71 L52.500 357.15 L54.643 358.49 L56.786 359.74 L58.929 360.91" stroke-width="1.56" stroke-dashoffset="1"/>
<path d="M58.929 360.91 L61.071 362.02 L63.214 363.08 L65.357 364.09 L67.500 365.05 L69.643 365.98 L71.786 366.87" stroke-width="1.47" stroke-dashoffset="16.43"/>
<path d="M71.786 366.87 L73.929 367.73 L76.071 368.56 L78.214 369.37 L80.357 370.15 L82.500 370.91 L84.643 371.65" stroke-width="1.42" stroke-dashoffset="30.61"/>
<path d="M84.643 371.65 L86.786 372.36 L88.929 373.07 L91.071 373.75 L93.214 374.42 L95.357 375.07 L97.500 375.71" stroke-width="1.38" stroke-dashoffset="44.32"/>
<path d="M97.500 375.71 L99.643 376.33 L101.786 376.94 L103.929 377.54 L106.071 378.13 L108.214 378.7 L110.357 379.27" stroke-width="1.35" stroke-dashoffset="57.81"/>
<path d="M110.357 379.27 L112.500 379.82 L114.643 380.36 L116.786 380.9 L118.929 381.42 L121.071 381.93 L123.214 382.44" stroke-width="1.33" stroke-dashoffset="71.15"/>
<path d="M123.214 382.44 L125.357 382.93 L127.500 383.42 L129.643 383.9 L131.786 384.37 L133.929 384.84 L136.071 385.29" stroke-width="1.31" stroke-dashoffset="84.39"/>
<path d="M136.071 385.29 L138.214 385.74 L140.357 386.18 L142.500 386.62 L144.643 387.04 L146.786 387.46 L148.929 387.88" stroke-width="1.29" stroke-dashoffset="97.56"/>
<path d="M148.929 387.88 L151.071 388.29 L153.214 388.69 L155.357 389.08 L157.500 389.47 L159.643 389.86 L161.786 390.23" stroke-width="1.27" stroke-dashoffset="110.68"/>
<path d="M161.786 390.23 L163.929 390.61 L166.071 390.97 L168.214 391.34 L170.357 391.69 L172.500 392.04 L174.643 392.39" stroke-width="1.25" stroke-dashoffset="123.75"/>
<path d="M174.643 392.39 L176.786 392.73 L178.929 393.07 L181.071 393.4 L183.214 393.73 L185.357 394.05 L187.500 394.37" stroke-width="1.23" stroke-dashoffset="136.79"/>
<path d="M187.500 394.37 L189.643 394.68 L191.786 394.99 L193.929 395.29 L196.071 395.59 L198.214 395.89 L200.357 396.18" stroke-width="1.22" stroke-dashoffset="149.79"/>
<path d="M200.357 396.18 L202.500 396.47 L204.643 396.76 L206.786 397.04 L208.929 397.31 L211.071 397.59 L213.214 397.86" stroke-width="1.2" stroke-dashoffset="162.78"/>
<path d="M213.214 397.86 L215.357 398.12 L217.500 398.38 L219.643 398.64 L221.786 398.9 L223.929 399.15 L226.071 399.4" stroke-width="1.19" stroke-dashoffset="175.74"/>
<path d="M226.071 399.4 L228.214 399.64 L230.357 399.88 L232.500 400.12 L234.643 400.36 L236.786 400.59 L238.929 400.82" stroke-width="1.17" stroke-dashoffset="188.69"/>
<path d="M238.929 400.82 L241.071 401.05 L243.214 401.27 L245.357 401.49 L247.500 401.71 L249.643 401.92 L251.786 402.13" stroke-width="1.16" stroke-dashoffset="201.63"/>
<path d="M251.786 402.13 L253.929 402.34 L256.071 402.55 L258.214 402.75 L260.357 402.95 L262.500 403.15 L264.643 403.34" stroke-width="1.14" stroke-dashoffset="214.55"/>
<path d="M264.643 403.34 L266.786 403.54 L268.929 403.73 L270.500 403.87" stroke-width="1.13" stroke-dashoffset="227.47"/>
</g></g>
<g clip-path="url(#cp3)"><g transform="scale(1.4,1)" fill="none" stroke="#ff0000">
<path d="M46.071 357.82 L48.214 359.68 L50.357 361.35 L52.500 362.89 L54.643 364.3 L56.786 365.63 L58.929 366.87" stroke-width="1.56"/>
<path d="M58.929 366.87 L61.071 368.04 L63.214 369.16 L65.357 370.23 L67.500 371.25 L69.643 372.23 L71.786 373.19" stroke-width="1.48"/>
<path d="M71.786 373.19 L73.929 374.11 L76.071 375 L78.214 375.87 L80.357 376.72 L82.500 377.55 L84.643 378.36" stroke-width="1.43"/>
<path d="M84.643 378.36 L86.786 379.15 L88.929 379.93 L91.071 380.69 L93.214 381.44 L95.357 382.18 L97.500 382.91" stroke-width="1.4"/>
<path d="M97.500 382.91 L99.643 383.62 L101.786 384.33 L103.929 385.02 L106.071 385.71 L108.214 386.39 L110.357 387.05" stroke-width="1.38"/>
<path d="M110.357 387.05 L112.500 387.71 L114.643 388.36 L116.786 389.01 L118.929 389.65 L121.071 390.28 L123.214 390.9" stroke-width="1.36"/>
<path d="M123.214 390.9 L125.357 391.52 L127.500 392.13 L129.643 392.73 L131.786 393.33 L133.929 393.92 L136.071 394.51" stroke-width="1.34"/>
<path d="M136.071 394.51 L138.214 395.09 L140.357 395.67 L142.500 396.24 L144.643 396.81 L146.786 397.37 L148.929 397.93" stroke-width="1.32"/>
<path d="M148.929 397.93 L151.071 398.48 L153.214 399.03 L155.357 399.57 L157.500 400.11 L159.643 400.64 L161.786 401.17" stroke-width="1.31"/>
<path d="M161.786 401.17 L163.929 401.7 L166.071 402.22 L168.214 402.74 L170.357 403.25 L172.500 403.76 L174.643 404.27" stroke-width="1.29"/>
<path d="M174.643 404.27 L176.786 404.77 L178.929 405.27 L181.071 405.76 L183.214 406.26 L185.357 406.74 L187.500 407.23" stroke-width="1.28"/>
<path d="M187.500 407.23 L189.643 407.71 L191.786 408.19 L193.929 408.66 L196.071 409.14 L198.214 409.6 L200.357 410.07" stroke-width="1.26"/>
<path d="M200.357 410.07 L202.500 410.53 L204.643 410.99 L206.786 411.45 L208.929 411.9 L211.071 412.35 L213.214 412.8" stroke-width="1.25"/>
<path d="M213.214 412.8 L215.357 413.24 L217.500 413.69 L219.643 414.13 L221.786 414.56 L223.929 415 L226.071 415.43" stroke-width="1.24"/>
<path d="M226.071 415.43 L228.214 415.85 L230.357 416.28 L232.500 416.7 L234.643 417.12 L236.786 417.54 L238.929 417.96" stroke-width="1.22"/>
<path d="M238.929 417.96 L241.071 418.37 L243.214 418.78 L245.357 419.19 L247.500 419.6 L249.643 420 L251.786 420.4" stroke-width="1.21"/>
<path d="M251.786 420.4 L253.929 420.8 L256.071 421.2 L258.214 421.59 L260.357 421.98 L262.500 422.37 L264.643 422.76" stroke-width="1.2"/>
<path d="M264.643 422.76 L266.786 423.15 L268.929 423.53 L270.500 423.81" stroke-width="1.19"/>
</g></g>
<text transform="translate(242,386.8) scale(1.42,1) rotate(9)" font-family="'Liberation Sans', sans-serif" font-size="13.91" font-weight="bold" font-style="italic" fill="#0000ff" stroke="#0000ff" stroke-width="0.3" text-anchor="start">c g g</text>
<text transform="translate(307.5,425.3) scale(1.42,1) rotate(10)" font-family="'Liberation Sans', sans-serif" font-size="13.91" font-weight="bold" font-style="italic" fill="#ff0000" stroke="#ff0000" stroke-width="0.3" text-anchor="start">c g</text>
<text transform="translate(192.5,453) scale(1.42,1) rotate(24)" font-family="'Liberation Sans', sans-serif" font-size="13.91" font-weight="bold" font-style="italic" fill="#00ff00" stroke="#00ff00" stroke-width="0.3" text-anchor="start">c Z</text>
<text transform="translate(308.3,477.9) scale(1.42,1)" font-family="'Liberation Sans', sans-serif" font-size="13.91" font-weight="bold" font-style="italic" fill="#ff00ff" stroke="#ff00ff" stroke-width="0.3" text-anchor="start">c h</text>
<g transform="translate(178.3,484.6) scale(1.42,1) rotate(14)">
<text font-family="'Liberation Sans', sans-serif" font-size="13.91" font-weight="bold" font-style="italic" fill="#00ffff" stroke="#00ffff" stroke-width="0.3">c</text>
<text transform="translate(10.4,1.4) scale(1.18,1)" font-family="'Liberation Serif', serif" font-size="14.3" font-style="italic" fill="#00ffff" stroke="#00ffff" stroke-width="0.2">&#947;</text>
</g>
<clipPath id="cp4"><rect x="431.2" y="280.4" width="314.2" height="226.7"/></clipPath>
<line x1="431.2" y1="495.16" x2="435" y2="495.16" stroke="#4a4a4a" stroke-width="0.7"/>
<line x1="431.2" y1="488.17" x2="435" y2="488.17" stroke="#4a4a4a" stroke-width="0.7"/>
<line x1="431.2" y1="483.21" x2="435" y2="483.21" stroke="#4a4a4a" stroke-width="0.7"/>
<line x1="431.2" y1="479.36" x2="435" y2="479.36" stroke="#4a4a4a" stroke-width="0.7"/>
<line x1="431.2" y1="476.22" x2="435" y2="476.22" stroke="#4a4a4a" stroke-width="0.7"/>
<line x1="431.2" y1="473.57" x2="435" y2="473.57" stroke="#4a4a4a" stroke-width="0.7"/>
<line x1="431.2" y1="471.27" x2="435" y2="471.27" stroke="#4a4a4a" stroke-width="0.7"/>
<line x1="431.2" y1="469.24" x2="435" y2="469.24" stroke="#4a4a4a" stroke-width="0.7"/>
<text transform="translate(402.8,510.1) scale(1.25,1)" font-family="'Liberation Sans', sans-serif" font-size="8.35" font-weight="bold" font-style="italic" fill="#000" stroke="#000" stroke-width="0.12" text-anchor="start">10</text>
<text transform="translate(418.5,503.2) scale(1.27,1)" font-family="'Liberation Sans', sans-serif" font-size="6.42" font-weight="bold" font-style="italic" fill="#000" stroke="#000" stroke-width="0.12" text-anchor="start">-9</text>
<line x1="431.2" y1="467.42" x2="439.3" y2="467.42" stroke="#8a8a8a" stroke-width="0.9"/>
<line x1="431.2" y1="455.48" x2="435" y2="455.48" stroke="#4a4a4a" stroke-width="0.7"/>
<line x1="431.2" y1="448.49" x2="435" y2="448.49" stroke="#4a4a4a" stroke-width="0.7"/>
<line x1="431.2" y1="443.53" x2="435" y2="443.53" stroke="#4a4a4a" stroke-width="0.7"/>
<line x1="431.2" y1="439.68" x2="435" y2="439.68" stroke="#4a4a4a" stroke-width="0.7"/>
<line x1="431.2" y1="436.54" x2="435" y2="436.54" stroke="#4a4a4a" stroke-width="0.7"/>
<line x1="431.2" y1="433.89" x2="435" y2="433.89" stroke="#4a4a4a" stroke-width="0.7"/>
<line x1="431.2" y1="431.59" x2="435" y2="431.59" stroke="#4a4a4a" stroke-width="0.7"/>
<line x1="431.2" y1="429.56" x2="435" y2="429.56" stroke="#4a4a4a" stroke-width="0.7"/>
<text transform="translate(402.8,470.42) scale(1.25,1)" font-family="'Liberation Sans', sans-serif" font-size="8.35" font-weight="bold" font-style="italic" fill="#000" stroke="#000" stroke-width="0.12" text-anchor="start">10</text>
<text transform="translate(418.5,463.52) scale(1.27,1)" font-family="'Liberation Sans', sans-serif" font-size="6.42" font-weight="bold" font-style="italic" fill="#000" stroke="#000" stroke-width="0.12" text-anchor="start">-8</text>
<line x1="431.2" y1="427.74" x2="439.3" y2="427.74" stroke="#8a8a8a" stroke-width="0.9"/>
<line x1="431.2" y1="415.8" x2="435" y2="415.8" stroke="#4a4a4a" stroke-width="0.7"/>
<line x1="431.2" y1="408.81" x2="435" y2="408.81" stroke="#4a4a4a" stroke-width="0.7"/>
<line x1="431.2" y1="403.85" x2="435" y2="403.85" stroke="#4a4a4a" stroke-width="0.7"/>
<line x1="431.2" y1="400" x2="435" y2="400" stroke="#4a4a4a" stroke-width="0.7"/>
<line x1="431.2" y1="396.86" x2="435" y2="396.86" stroke="#4a4a4a" stroke-width="0.7"/>
<line x1="431.2" y1="394.21" x2="435" y2="394.21" stroke="#4a4a4a" stroke-width="0.7"/>
<line x1="431.2" y1="391.91" x2="435" y2="391.91" stroke="#4a4a4a" stroke-width="0.7"/>
<line x1="431.2" y1="389.88" x2="435" y2="389.88" stroke="#4a4a4a" stroke-width="0.7"/>
<text transform="translate(402.8,430.74) scale(1.25,1)" font-family="'Liberation Sans', sans-serif" font-size="8.35" font-weight="bold" font-style="italic" fill="#000" stroke="#000" stroke-width="0.12" text-anchor="start">10</text>
<text transform="translate(418.5,423.84) scale(1.27,1)" font-family="'Liberation Sans', sans-serif" font-size="6.42" font-weight="bold" font-style="italic" fill="#000" stroke="#000" stroke-width="0.12" text-anchor="start">-7</text>
<line x1="431.2" y1="388.06" x2="439.3" y2="388.06" stroke="#8a8a8a" stroke-width="0.9"/>
<line x1="431.2" y1="376.12" x2="435" y2="376.12" stroke="#4a4a4a" stroke-width="0.7"/>
<line x1="431.2" y1="369.13" x2="435" y2="369.13" stroke="#4a4a4a" stroke-width="0.7"/>
<line x1="431.2" y1="364.17" x2="435" y2="364.17" stroke="#4a4a4a" stroke-width="0.7"/>
<line x1="431.2" y1="360.32" x2="435" y2="360.32" stroke="#4a4a4a" stroke-width="0.7"/>
<line x1="431.2" y1="357.18" x2="435" y2="357.18" stroke="#4a4a4a" stroke-width="0.7"/>
<line x1="431.2" y1="354.53" x2="435" y2="354.53" stroke="#4a4a4a" stroke-width="0.7"/>
<line x1="431.2" y1="352.23" x2="435" y2="352.23" stroke="#4a4a4a" stroke-width="0.7"/>
<line x1="431.2" y1="350.2" x2="435" y2="350.2" stroke="#4a4a4a" stroke-width="0.7"/>
<text transform="translate(402.8,391.06) scale(1.25,1)" font-family="'Liberation Sans', sans-serif" font-size="8.35" font-weight="bold" font-style="italic" fill="#000" stroke="#000" stroke-width="0.12" text-anchor="start">10</text>
<text transform="translate(418.5,384.16) scale(1.27,1)" font-family="'Liberation Sans', sans-serif" font-size="6.42" font-weight="bold" font-style="italic" fill="#000" stroke="#000" stroke-width="0.12" text-anchor="start">-6</text>
<line x1="431.2" y1="348.38" x2="439.3" y2="348.38" stroke="#8a8a8a" stroke-width="0.9"/>
<line x1="431.2" y1="336.44" x2="435" y2="336.44" stroke="#4a4a4a" stroke-width="0.7"/>
<line x1="431.2" y1="329.45" x2="435" y2="329.45" stroke="#4a4a4a" stroke-width="0.7"/>
<line x1="431.2" y1="324.49" x2="435" y2="324.49" stroke="#4a4a4a" stroke-width="0.7"/>
<line x1="431.2" y1="320.64" x2="435" y2="320.64" stroke="#4a4a4a" stroke-width="0.7"/>
<line x1="431.2" y1="317.5" x2="435" y2="317.5" stroke="#4a4a4a" stroke-width="0.7"/>
<line x1="431.2" y1="314.85" x2="435" y2="314.85" stroke="#4a4a4a" stroke-width="0.7"/>
<line x1="431.2" y1="312.55" x2="435" y2="312.55" stroke="#4a4a4a" stroke-width="0.7"/>
<line x1="431.2" y1="310.52" x2="435" y2="310.52" stroke="#4a4a4a" stroke-width="0.7"/>
<text transform="translate(402.8,351.38) scale(1.25,1)" font-family="'Liberation Sans', sans-serif" font-size="8.35" font-weight="bold" font-style="italic" fill="#000" stroke="#000" stroke-width="0.12" text-anchor="start">10</text>
<text transform="translate(418.5,344.48) scale(1.27,1)" font-family="'Liberation Sans', sans-serif" font-size="6.42" font-weight="bold" font-style="italic" fill="#000" stroke="#000" stroke-width="0.12" text-anchor="start">-5</text>
<line x1="431.2" y1="308.7" x2="439.3" y2="308.7" stroke="#8a8a8a" stroke-width="0.9"/>
<line x1="431.2" y1="296.76" x2="435" y2="296.76" stroke="#4a4a4a" stroke-width="0.7"/>
<line x1="431.2" y1="289.77" x2="435" y2="289.77" stroke="#4a4a4a" stroke-width="0.7"/>
<line x1="431.2" y1="284.81" x2="435" y2="284.81" stroke="#4a4a4a" stroke-width="0.7"/>
<line x1="431.2" y1="280.96" x2="435" y2="280.96" stroke="#4a4a4a" stroke-width="0.7"/>
<text transform="translate(402.8,311.7) scale(1.25,1)" font-family="'Liberation Sans', sans-serif" font-size="8.35" font-weight="bold" font-style="italic" fill="#000" stroke="#000" stroke-width="0.12" text-anchor="start">10</text>
<text transform="translate(418.5,304.8) scale(1.27,1)" font-family="'Liberation Sans', sans-serif" font-size="6.42" font-weight="bold" font-style="italic" fill="#000" stroke="#000" stroke-width="0.12" text-anchor="start">-4</text>
<line x1="431.2" y1="507.1" x2="431.2" y2="504" stroke="#4a4a4a" stroke-width="0.9"/>
<line x1="459.76" y1="507.1" x2="459.76" y2="504" stroke="#4a4a4a" stroke-width="0.9"/>
<line x1="488.33" y1="507.1" x2="488.33" y2="504" stroke="#4a4a4a" stroke-width="0.9"/>
<line x1="516.89" y1="507.1" x2="516.89" y2="501.6" stroke="#8a8a8a" stroke-width="1.2"/>
<line x1="545.45" y1="507.1" x2="545.45" y2="504" stroke="#4a4a4a" stroke-width="0.9"/>
<line x1="574.02" y1="507.1" x2="574.02" y2="504" stroke="#4a4a4a" stroke-width="0.9"/>
<line x1="602.58" y1="507.1" x2="602.58" y2="504" stroke="#4a4a4a" stroke-width="0.9"/>
<line x1="631.15" y1="507.1" x2="631.15" y2="501.6" stroke="#8a8a8a" stroke-width="1.2"/>
<line x1="659.71" y1="507.1" x2="659.71" y2="504" stroke="#4a4a4a" stroke-width="0.9"/>
<line x1="688.27" y1="507.1" x2="688.27" y2="504" stroke="#4a4a4a" stroke-width="0.9"/>
<line x1="716.84" y1="507.1" x2="716.84" y2="504" stroke="#4a4a4a" stroke-width="0.9"/>
<line x1="745.4" y1="507.1" x2="745.4" y2="501.6" stroke="#8a8a8a" stroke-width="1.2"/>
<text transform="translate(517.39,516.5) scale(1.25,1)" font-family="'Liberation Sans', sans-serif" font-size="8.35" font-weight="bold" font-style="italic" fill="#000" stroke="#000" stroke-width="0.12" text-anchor="middle">600</text>
<text transform="translate(631.65,516.5) scale(1.25,1)" font-family="'Liberation Sans', sans-serif" font-size="8.35" font-weight="bold" font-style="italic" fill="#000" stroke="#000" stroke-width="0.12" text-anchor="middle">800</text>
<text transform="translate(745.9,516.5) scale(1.25,1)" font-family="'Liberation Sans', sans-serif" font-size="8.35" font-weight="bold" font-style="italic" fill="#000" stroke="#000" stroke-width="0.12" text-anchor="middle">1000</text>
<path d="M431.2 280.4 H745.4 V507.1" fill="none" stroke="#8a8a8a" stroke-width="1"/>
<path d="M431.2 280.4 V507.1 H745.4" fill="none" stroke="#4c4c4c" stroke-width="1"/>
<text transform="translate(648.9,302.3) scale(1.45,1)" font-family="'Liberation Serif', serif" font-size="15.9" fill="#000" stroke="#000" stroke-width="0.35">&#948;</text>
<text transform="translate(659.6,306.7) scale(1.55,1)" font-family="'Liberation Sans', sans-serif" font-size="8.56" font-weight="bold" font-style="italic" fill="#000" stroke="#000" stroke-width="0.3" text-anchor="start">LR</text>
<text transform="translate(683.5,303) scale(1.25,1)" font-family="'Liberation Sans', sans-serif" font-size="14.98" font-weight="bold" font-style="italic" fill="#000" stroke="#000" stroke-width="0.3" text-anchor="start">=</text>
<text transform="translate(700.5,302.3) scale(1.24,1)" font-family="'Liberation Sans', sans-serif" font-size="15.62" font-weight="bold" font-style="italic" fill="#000" stroke="#000" stroke-width="0.3" text-anchor="start">0.6</text>
<text transform="translate(547.5,530.3) scale(1.31,1)" font-family="'Liberation Sans', sans-serif" font-size="14.55" font-weight="bold" font-style="italic" fill="#000" stroke="#000" stroke-width="0.3" text-anchor="start">M</text>
<text transform="translate(563.2,535.1) scale(1.27,1)" font-family="'Liberation Sans', sans-serif" font-size="10.91" font-weight="bold" font-style="italic" fill="#000" stroke="#000" stroke-width="0.3" text-anchor="start">SUSY</text>
<text transform="translate(606.8,530.3) scale(1.35,1)" font-family="'Liberation Sans', sans-serif" font-size="14.55" font-weight="bold" font-style="italic" fill="#000" stroke="#000" stroke-width="0.3" text-anchor="start">(GeV)</text>
<g clip-path="url(#cp4)"><g transform="scale(1.4,1)" fill="none" stroke="#00ffff">
<path d="M308.214 410.21 L310.357 412.6 L312.500 414.73 L314.643 416.66 L316.786 418.41 L318.929 420.01 L321.071 421.48" stroke-width="1.51"/>
<path d="M321.071 421.48 L323.214 422.85 L325.357 424.13 L327.500 425.32 L329.643 426.45 L331.786 427.51 L333.929 428.52" stroke-width="1.5"/>
<path d="M333.929 428.52 L336.071 429.47 L338.214 430.38 L340.357 431.26 L342.500 432.09 L344.643 432.9 L346.786 433.67" stroke-width="1.43"/>
<path d="M346.786 433.67 L348.929 434.42 L351.071 435.14 L353.214 435.84 L355.357 436.52 L357.500 437.17 L359.643 437.81" stroke-width="1.39"/>
<path d="M359.643 437.81 L361.786 438.44 L363.929 439.05 L366.071 439.64 L368.214 440.22 L370.357 440.79 L372.500 441.34" stroke-width="1.35"/>
<path d="M372.500 441.34 L374.643 441.89 L376.786 442.42 L378.929 442.94 L381.071 443.46 L383.214 443.96 L385.357 444.46" stroke-width="1.33"/>
<path d="M385.357 444.46 L387.500 444.95 L389.643 445.43 L391.786 445.9 L393.929 446.37 L396.071 446.82 L398.214 447.28" stroke-width="1.31"/>
<path d="M398.214 447.28 L400.357 447.72 L402.500 448.17 L404.643 448.6 L406.786 449.03 L408.929 449.45 L411.071 449.87" stroke-width="1.29"/>
<path d="M411.071 449.87 L413.214 450.29 L415.357 450.7 L417.500 451.1 L419.643 451.5 L421.786 451.9 L423.929 452.29" stroke-width="1.27"/>
<path d="M423.929 452.29 L426.071 452.68 L428.214 453.07 L430.357 453.45 L432.500 453.83 L434.643 454.2 L436.786 454.57" stroke-width="1.26"/>
<path d="M436.786 454.57 L438.929 454.94 L441.071 455.3 L443.214 455.66 L445.357 456.02 L447.500 456.37 L449.643 456.73" stroke-width="1.24"/>
<path d="M449.643 456.73 L451.786 457.08 L453.929 457.42 L456.071 457.77 L458.214 458.11 L460.357 458.45 L462.500 458.78" stroke-width="1.23"/>
<path d="M462.500 458.78 L464.643 459.12 L466.786 459.45 L468.929 459.78 L471.071 460.1 L473.214 460.43 L475.357 460.75" stroke-width="1.21"/>
<path d="M475.357 460.75 L477.500 461.07 L479.643 461.39 L481.786 461.7 L483.929 462.02 L486.071 462.33 L488.214 462.64" stroke-width="1.2"/>
<path d="M488.214 462.64 L490.357 462.94 L492.500 463.25 L494.643 463.55 L496.786 463.86 L498.929 464.16 L501.071 464.46" stroke-width="1.19"/>
<path d="M501.071 464.46 L503.214 464.75 L505.357 465.05 L507.500 465.34 L509.643 465.63 L511.786 465.92 L513.929 466.21" stroke-width="1.18"/>
<path d="M513.929 466.21 L516.071 466.5 L518.214 466.78 L520.357 467.07 L522.500 467.35 L524.643 467.63 L526.786 467.91" stroke-width="1.17"/>
<path d="M526.786 467.91 L528.929 468.19 L531.071 468.46 L532.357 468.63" stroke-width="1.16"/>
</g></g>
<g clip-path="url(#cp4)"><g transform="scale(1.4,1)" fill="none" stroke="#00ff00">
<path d="M308.214 372.12 L310.357 374.23 L312.500 376.11 L314.643 377.81 L316.786 379.35 L318.929 380.78 L321.071 382.1" stroke-width="1.54"/>
<path d="M321.071 382.1 L323.214 383.32 L325.357 384.48 L327.500 385.56 L329.643 386.59 L331.786 387.57 L333.929 388.51" stroke-width="1.49"/>
<path d="M333.929 388.51 L336.071 389.4 L338.214 390.26 L340.357 391.09 L342.500 391.9 L344.643 392.67 L346.786 393.43" stroke-width="1.42"/>
<path d="M346.786 393.43 L348.929 394.16 L351.071 394.87 L353.214 395.57 L355.357 396.24 L357.500 396.91 L359.643 397.56" stroke-width="1.39"/>
<path d="M359.643 397.56 L361.786 398.19 L363.929 398.81 L366.071 399.43 L368.214 400.03 L370.357 400.62 L372.500 401.2" stroke-width="1.36"/>
<path d="M372.500 401.2 L374.643 401.77 L376.786 402.33 L378.929 402.89 L381.071 403.43 L383.214 403.97 L385.357 404.5" stroke-width="1.34"/>
<path d="M385.357 404.5 L387.500 405.03 L389.643 405.55 L391.786 406.06 L393.929 406.56 L396.071 407.06 L398.214 407.56" stroke-width="1.32"/>
<path d="M398.214 407.56 L400.357 408.04 L402.500 408.53 L404.643 409.01 L406.786 409.48 L408.929 409.95 L411.071 410.41" stroke-width="1.3"/>
<path d="M411.071 410.41 L413.214 410.87 L415.357 411.32 L417.500 411.77 L419.643 412.22 L421.786 412.66 L423.929 413.1" stroke-width="1.28"/>
<path d="M423.929 413.1 L426.071 413.53 L428.214 413.96 L430.357 414.39 L432.500 414.81 L434.643 415.23 L436.786 415.65" stroke-width="1.27"/>
<path d="M436.786 415.65 L438.929 416.06 L441.071 416.47 L443.214 416.87 L445.357 417.28 L447.500 417.68 L449.643 418.07" stroke-width="1.25"/>
<path d="M449.643 418.07 L451.786 418.47 L453.929 418.86 L456.071 419.24 L458.214 419.63 L460.357 420.01 L462.500 420.39" stroke-width="1.24"/>
<path d="M462.500 420.39 L464.643 420.76 L466.786 421.14 L468.929 421.51 L471.071 421.88 L473.214 422.24 L475.357 422.61" stroke-width="1.23"/>
<path d="M475.357 422.61 L477.500 422.97 L479.643 423.32 L481.786 423.68 L483.929 424.03 L486.071 424.39 L488.214 424.73" stroke-width="1.21"/>
<path d="M488.214 424.73 L490.357 425.08 L492.500 425.43 L494.643 425.77 L496.786 426.11 L498.929 426.45 L501.071 426.78" stroke-width="1.2"/>
<path d="M501.071 426.78 L503.214 427.11 L505.357 427.45 L507.500 427.78 L509.643 428.1 L511.786 428.43 L513.929 428.75" stroke-width="1.19"/>
<path d="M513.929 428.75 L516.071 429.07 L518.214 429.39 L520.357 429.71 L522.500 430.03 L524.643 430.34 L526.786 430.65" stroke-width="1.18"/>
<path d="M526.786 430.65 L528.929 430.96 L531.071 431.27 L532.357 431.46" stroke-width="1.17"/>
</g></g>
<clipPath id="cp4m"><rect x="431" y="281" width="160.5" height="80"/></clipPath>
<g clip-path="url(#cp4m)"><g transform="scale(1.4,1)" fill="none" stroke="#ff00ff" stroke-dasharray="3.62 3.22 1.27 3.22">
<path d="M308.214 287.5 L309.286 290.8 L310.357 293.61 L311.429 296.09 L312.500 298.31 L313.571 300.35 L314.643 302.23" stroke-width="1.3" stroke-dashoffset="5.6"/>
<path d="M314.643 302.23 L315.714 303.98 L316.786 305.62 L317.857 307.16 L318.929 308.63 L320.000 310.01 L321.071 311.32" stroke-width="1.39" stroke-dashoffset="21.71"/>
<path d="M321.071 311.32 L322.143 312.58 L323.214 313.77 L324.286 314.91 L325.357 316 L326.429 317.04 L327.500 318.04" stroke-width="1.47" stroke-dashoffset="32.86"/>
<path d="M327.500 318.04 L328.571 319 L329.643 319.91 L330.714 320.8 L331.786 321.64 L332.857 322.46 L333.929 323.24" stroke-width="1.53" stroke-dashoffset="42.16"/>
<path d="M333.929 323.24 L335.000 323.99 L336.071 324.71 L337.143 325.41 L338.214 326.08 L339.286 326.73 L340.357 327.35" stroke-width="1.53" stroke-dashoffset="50.43"/>
<path d="M340.357 327.35 L341.429 327.95 L342.500 328.52 L343.571 329.08 L344.643 329.62 L345.714 330.13 L346.786 330.63" stroke-width="1.48" stroke-dashoffset="58.07"/>
<path d="M346.786 330.63 L347.857 331.11 L348.929 331.57 L350.000 332.02 L351.071 332.45 L352.143 332.86 L353.214 333.26" stroke-width="1.43" stroke-dashoffset="65.29"/>
<path d="M353.214 333.26 L354.286 333.65 L355.357 334.02 L356.429 334.38 L357.500 334.72 L358.571 335.05 L359.643 335.37" stroke-width="1.39" stroke-dashoffset="72.23"/>
<path d="M359.643 335.37 L360.714 335.68 L361.786 335.97 L362.857 336.26 L363.929 336.53 L365.000 336.8 L366.071 337.05" stroke-width="1.35" stroke-dashoffset="79"/>
<path d="M366.071 337.05 L367.143 337.29 L368.214 337.53 L369.286 337.75 L370.357 337.97 L371.429 338.18 L372.500 338.37" stroke-width="1.31" stroke-dashoffset="85.65"/>
<path d="M372.500 338.37 L373.571 338.56 L374.643 338.75 L375.714 338.92 L376.786 339.09 L377.857 339.25 L378.929 339.4" stroke-width="1.28" stroke-dashoffset="92.21"/>
<path d="M378.929 339.4 L380.000 339.54 L381.071 339.68 L382.143 339.81 L383.214 339.94 L384.286 340.05 L385.357 340.17" stroke-width="1.25" stroke-dashoffset="98.72"/>
<path d="M385.357 340.17 L386.429 340.27 L387.500 340.37 L388.571 340.47 L389.643 340.56 L390.714 340.64 L391.786 340.72" stroke-width="1.23" stroke-dashoffset="105.19"/>
<path d="M391.786 340.72 L392.857 340.79 L393.929 340.86 L395.000 340.92 L396.071 340.98 L397.143 341.03 L398.214 341.08" stroke-width="1.2" stroke-dashoffset="111.65"/>
<path d="M398.214 341.08 L399.286 341.12 L400.357 341.16 L401.429 341.2 L402.500 341.23 L403.571 341.25 L404.643 341.28" stroke-width="1.18" stroke-dashoffset="118.09"/>
<path d="M404.643 341.28 L405.714 341.29 L406.786 341.31 L407.857 341.32 L408.929 341.33 L410.000 341.33 L411.071 341.33" stroke-width="1.16" stroke-dashoffset="124.52"/>
<path d="M411.071 341.33 L412.143 341.33 L413.214 341.32 L414.286 341.31 L415.357 341.29 L416.429 341.28 L417.500 341.26" stroke-width="1.16" stroke-dashoffset="130.95"/>
<path d="M417.500 341.26 L418.571 341.23 L419.643 341.21 L420.714 341.18 L421.786 341.15 L422.857 341.11 L423.929 341.07" stroke-width="1.16" stroke-dashoffset="137.38"/>
<path d="M423.929 341.07 L425.000 341.03 L426.071 340.99 L427.143 340.94 L428.214 340.89 L429.286 340.84 L430.357 340.79" stroke-width="1.17" stroke-dashoffset="143.81"/>
<path d="M430.357 340.79 L431.429 340.73 L432.500 340.68 L433.571 340.61 L434.643 340.55 L435.714 340.49 L436.357 340.45" stroke-width="1.18" stroke-dashoffset="150.24"/>
</g></g>
<path d="M594 341.1 H598.7" stroke="#ff00ff" stroke-width="1.3" opacity="0.6"/>
<path d="M603.7 341 H605.2" stroke="#ff00ff" stroke-width="1.3" opacity="0.5"/>
<path d="M610 340.8 H611.2" stroke="#ff00ff" stroke-width="1.2" opacity="0.25"/>
<g clip-path="url(#cp4)"><g transform="scale(1.4,1)" fill="none" stroke="#0000ff" stroke-dasharray="3.5 2.7">
<path d="M308.214 335.87 L310.357 337.02 L312.500 338.03 L314.643 338.93 L316.786 339.73 L318.929 340.45 L321.071 341.11" stroke-width="1.45" stroke-dashoffset="1"/>
<path d="M321.071 341.11 L323.214 341.71 L325.357 342.27 L327.500 342.78 L329.643 343.26 L331.786 343.71 L333.929 344.13" stroke-width="1.36" stroke-dashoffset="14.92"/>
<path d="M333.929 344.13 L336.071 344.53 L338.214 344.91 L340.357 345.27 L342.500 345.61 L344.643 345.94 L346.786 346.25" stroke-width="1.31" stroke-dashoffset="28.13"/>
<path d="M346.786 346.25 L348.929 346.56 L351.071 346.85 L353.214 347.13 L355.357 347.4 L357.500 347.66 L359.643 347.92" stroke-width="1.28" stroke-dashoffset="41.16"/>
<path d="M359.643 347.92 L361.786 348.17 L363.929 348.41 L366.071 348.65 L368.214 348.88 L370.357 349.1 L372.500 349.32" stroke-width="1.26" stroke-dashoffset="54.13"/>
<path d="M372.500 349.32 L374.643 349.54 L376.786 349.75 L378.929 349.96 L381.071 350.16 L383.214 350.36 L385.357 350.55" stroke-width="1.24" stroke-dashoffset="67.06"/>
<path d="M385.357 350.55 L387.500 350.75 L389.643 350.94 L391.786 351.12 L393.929 351.31 L396.071 351.49 L398.214 351.67" stroke-width="1.22" stroke-dashoffset="79.97"/>
<path d="M398.214 351.67 L400.357 351.85 L402.500 352.02 L404.643 352.19 L406.786 352.36 L408.929 352.53 L411.071 352.7" stroke-width="1.21" stroke-dashoffset="92.88"/>
<path d="M411.071 352.7 L413.214 352.86 L415.357 353.02 L417.500 353.18 L419.643 353.34 L421.786 353.5 L423.929 353.65" stroke-width="1.2" stroke-dashoffset="105.78"/>
<path d="M423.929 353.65 L426.071 353.81 L428.214 353.96 L430.357 354.11 L432.500 354.26 L434.643 354.41 L436.786 354.56" stroke-width="1.19" stroke-dashoffset="118.67"/>
<path d="M436.786 354.56 L438.929 354.7 L441.071 354.85 L443.214 354.99 L445.357 355.13 L447.500 355.27 L449.643 355.41" stroke-width="1.18" stroke-dashoffset="131.56"/>
<path d="M449.643 355.41 L451.786 355.55 L453.929 355.69 L456.071 355.82 L458.214 355.96 L460.357 356.09 L462.500 356.23" stroke-width="1.17" stroke-dashoffset="144.45"/>
<path d="M462.500 356.23 L464.643 356.36 L466.786 356.49 L468.929 356.62 L471.071 356.75 L473.214 356.88 L475.357 357.01" stroke-width="1.15" stroke-dashoffset="157.33"/>
<path d="M475.357 357.01 L477.500 357.13 L479.643 357.26 L481.786 357.39 L483.929 357.51 L486.071 357.63 L488.214 357.76" stroke-width="1.14" stroke-dashoffset="170.21"/>
<path d="M488.214 357.76 L490.357 357.88 L492.500 358 L494.643 358.12 L496.786 358.24 L498.929 358.36 L501.071 358.47" stroke-width="1.13" stroke-dashoffset="183.09"/>
<path d="M501.071 358.47 L503.214 358.59 L505.357 358.71 L507.500 358.82 L509.643 358.94 L511.786 359.05 L513.929 359.17" stroke-width="1.12" stroke-dashoffset="195.97"/>
<path d="M513.929 359.17 L516.071 359.28 L518.214 359.39 L520.357 359.5 L522.500 359.62 L524.643 359.73 L526.786 359.84" stroke-width="1.11" stroke-dashoffset="208.84"/>
<path d="M526.786 359.84 L528.929 359.95 L531.071 360.05 L532.357 360.12" stroke-width="1.11" stroke-dashoffset="221.72"/>
</g></g>
<g clip-path="url(#cp4)"><g transform="scale(1.4,1)" fill="none" stroke="#ff0000">
<path d="M308.214 340.34 L310.357 341.53 L312.500 342.59 L314.643 343.53 L316.786 344.37 L318.929 345.14 L321.071 345.84" stroke-width="1.46"/>
<path d="M321.071 345.84 L323.214 346.48 L325.357 347.07 L327.500 347.62 L329.643 348.13 L331.786 348.6 L333.929 349.05" stroke-width="1.37"/>
<path d="M333.929 349.05 L336.071 349.48 L338.214 349.88 L340.357 350.26 L342.500 350.62 L344.643 350.97 L346.786 351.31" stroke-width="1.31"/>
<path d="M346.786 351.31 L348.929 351.63 L351.071 351.94 L353.214 352.24 L355.357 352.52 L357.500 352.81 L359.643 353.08" stroke-width="1.28"/>
<path d="M359.643 353.08 L361.786 353.34 L363.929 353.6 L366.071 353.86 L368.214 354.11 L370.357 354.35 L372.500 354.59" stroke-width="1.26"/>
<path d="M372.500 354.59 L374.643 354.82 L376.786 355.05 L378.929 355.28 L381.071 355.5 L383.214 355.72 L385.357 355.94" stroke-width="1.24"/>
<path d="M385.357 355.94 L387.500 356.15 L389.643 356.36 L391.786 356.57 L393.929 356.78 L396.071 356.99 L398.214 357.19" stroke-width="1.23"/>
<path d="M398.214 357.19 L400.357 357.39 L402.500 357.59 L404.643 357.79 L406.786 357.99 L408.929 358.19 L411.071 358.38" stroke-width="1.22"/>
<path d="M411.071 358.38 L413.214 358.57 L415.357 358.77 L417.500 358.96 L419.643 359.15 L421.786 359.34 L423.929 359.53" stroke-width="1.21"/>
<path d="M423.929 359.53 L426.071 359.71 L428.214 359.9 L430.357 360.09 L432.500 360.27 L434.643 360.46 L436.786 360.64" stroke-width="1.2"/>
<path d="M436.786 360.64 L438.929 360.82 L441.071 361.01 L443.214 361.19 L445.357 361.37 L447.500 361.55 L449.643 361.73" stroke-width="1.19"/>
<path d="M449.643 361.73 L451.786 361.91 L453.929 362.09 L456.071 362.27 L458.214 362.45 L460.357 362.63 L462.500 362.81" stroke-width="1.18"/>
<path d="M462.500 362.81 L464.643 362.99 L466.786 363.17 L468.929 363.34 L471.071 363.52 L473.214 363.7 L475.357 363.87" stroke-width="1.17"/>
<path d="M475.357 363.87 L477.500 364.05 L479.643 364.22 L481.786 364.4 L483.929 364.58 L486.071 364.75 L488.214 364.92" stroke-width="1.16"/>
<path d="M488.214 364.92 L490.357 365.1 L492.500 365.27 L494.643 365.45 L496.786 365.62 L498.929 365.8 L501.071 365.97" stroke-width="1.15"/>
<path d="M501.071 365.97 L503.214 366.14 L505.357 366.32 L507.500 366.49 L509.643 366.66 L511.786 366.83 L513.929 367.01" stroke-width="1.14"/>
<path d="M513.929 367.01 L516.071 367.18 L518.214 367.35 L520.357 367.52 L522.500 367.69 L524.643 367.86 L526.786 368.04" stroke-width="1.13"/>
<path d="M526.786 368.04 L528.929 368.21 L531.071 368.38 L532.357 368.48" stroke-width="1.13"/>
</g></g>
<text transform="translate(561,340) scale(1.42,1)" font-family="'Liberation Sans', sans-serif" font-size="13.91" font-weight="bold" font-style="italic" fill="#ff00ff" stroke="#ff00ff" stroke-width="0.3" text-anchor="start">c h</text>
<text transform="translate(665,351.2) scale(1.42,1) rotate(2)" font-family="'Liberation Sans', sans-serif" font-size="13.91" font-weight="bold" font-style="italic" fill="#0000ff" stroke="#0000ff" stroke-width="0.3" text-anchor="start">c g g</text>
<text transform="translate(673.7,373.8) scale(1.42,1) rotate(3)" font-family="'Liberation Sans', sans-serif" font-size="13.91" font-weight="bold" font-style="italic" fill="#ff0000" stroke="#ff0000" stroke-width="0.3" text-anchor="start">c g</text>
<text transform="translate(559.3,407) scale(1.42,1) rotate(8)" font-family="'Liberation Sans', sans-serif" font-size="13.91" font-weight="bold" font-style="italic" fill="#00ff00" stroke="#00ff00" stroke-width="0.3" text-anchor="start">c Z</text>
<g transform="translate(561.7,443.2) scale(1.42,1) rotate(8)">
<text font-family="'Liberation Sans', sans-serif" font-size="13.91" font-weight="bold" font-style="italic" fill="#00ffff" stroke="#00ffff" stroke-width="0.3">c</text>
<text transform="translate(10.4,1.4) scale(1.18,1)" font-family="'Liberation Serif', serif" font-size="14.3" font-style="italic" fill="#00ffff" stroke="#00ffff" stroke-width="0.2">&#947;</text>
</g>
</g>
</svg>
</body></html>
